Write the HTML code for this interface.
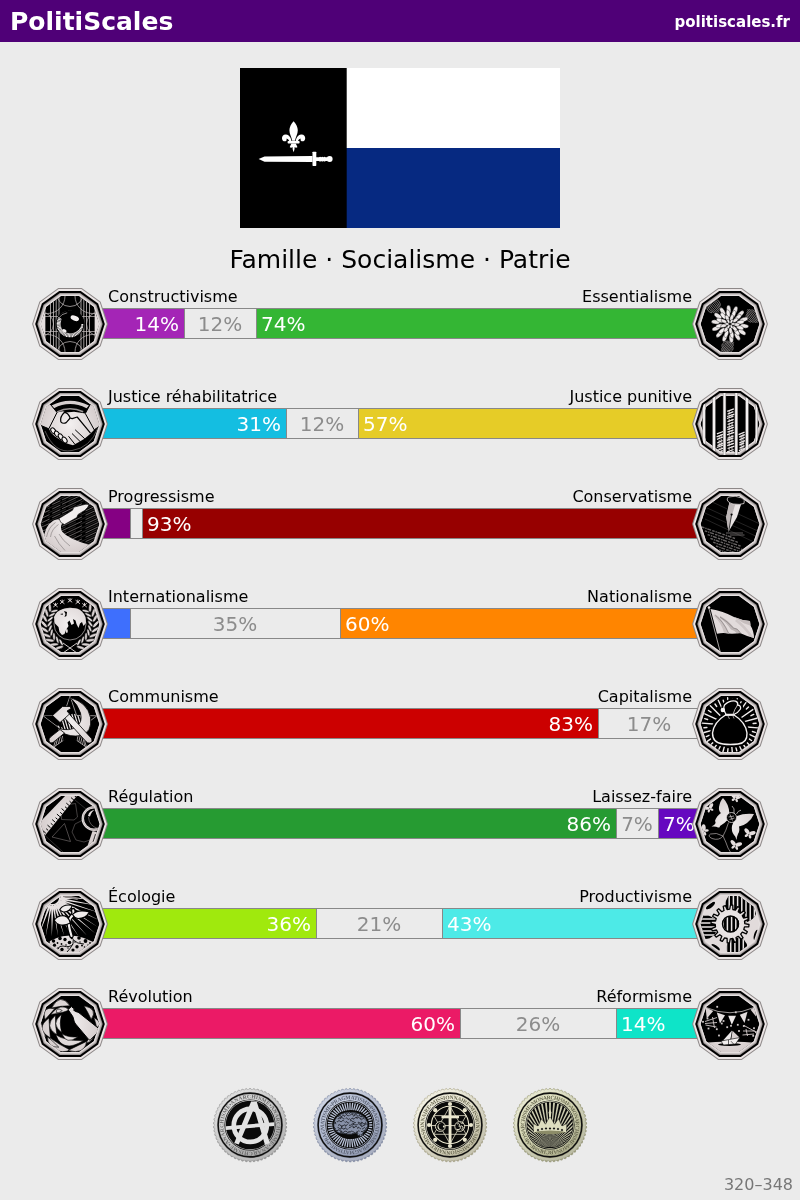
<!DOCTYPE html>
<html lang="fr"><head><meta charset="utf-8"><title>PolitiScales</title>
<style>
html,body{margin:0;padding:0;background:#ebebeb;}
svg{display:block;font-family:"DejaVu Sans","Liberation Sans",sans-serif;}
.lab{font-size:16px;fill:#000;}
.pc{font-size:20px;fill:#fff;}
.pn{font-size:20px;fill:#8c8c8c;}
.mt{font-family:"Liberation Serif","DejaVu Serif",serif;font-weight:bold;font-size:5.5px;}
</style></head><body>
<svg width="800" height="1200" viewBox="0 0 800 1200">
<rect width="800" height="1200" fill="#ebebeb"/>
<rect width="800" height="42" fill="#4f0077"/>
<text x="10" y="30" font-size="25" font-weight="bold" fill="#fff">PolitiScales</text>
<text x="790" y="27" font-size="15" font-weight="bold" fill="#fff" text-anchor="end">politiscales.fr</text>

<g id="flag">
<rect x="340" y="68" width="220" height="80" fill="#fff"/>
<rect x="340" y="148" width="220" height="80" fill="#062981"/>
<rect x="240" y="68" width="106.700" height="160" fill="#000"/>
<g fill="#fff">
<path d="M293.6 121.3C291.2 124 289.4 127.2 289.4 130.3C289.4 134 291.6 137.2 292.2 140.8H295C295.6 137.2 297.8 134 297.8 130.3C297.8 127.2 296 124 293.6 121.3Z"/>
<g transform="translate(0,.8)"><path d="M291.6 141.2C291.4 137.6 289.6 134 286 133.6C283.2 133.4 281.9 135.6 282 137.6C282.2 139.8 284 141 285.6 140.4C286.8 140 287 138.6 286.2 138C287.8 137.6 289.2 139 289.4 141.2Z"/>
<path d="M295.6 141.2C295.8 137.6 297.6 134 301.2 133.6C304 133.4 305.3 135.6 305.2 137.6C305 139.8 303.2 141 301.6 140.4C300.4 140 300.2 138.6 301 138C299.400 137.6 298 139 297.8 141.2Z"/></g>
<rect x="287.6" y="141" width="12" height="2.6" rx=".8"/>
<path d="M291.4 143.4H295.800C296.2 145 297.4 146 297.4 147.300C296.2 148 295.3 147.700 294.7 147C294.7 148.800 294.3 150.500 293.6 152.200C292.900 150.500 292.500 148.800 292.500 147C291.900 147.700 291 148 289.800 147.300C289.800 146 291 145 291.400 143.400Z"/>
<path d="M258.6 159L264.500 156.400L312.500 156V162.100L264.500 161.700Z"/>
<rect x="312.500" y="151.700" width="3.800" height="14.200" rx=".6"/>
<path d="M316 157.300H319C319.600 156.600 320.600 156.600 321.200 157.300C321.800 156.600 322.800 156.600 323.400 157.300C324 156.600 325 156.600 325.600 157.300H327V160.900H325.600C325 161.600 324 161.600 323.400 160.900C322.800 161.600 321.800 161.600 321.200 160.900C320.600 161.600 319.600 161.600 319 160.900H316Z"/>
<circle cx="329.600" cy="159.100" r="3"/>
</g>
</g>
<text x="400" y="268" font-size="25" fill="#000" text-anchor="middle">Famille · Socialisme · Patrie</text>

<text class="lab" x="108" y="302">Constructivisme</text>
<text class="lab" x="692" y="302" text-anchor="end">Essentialisme</text>
<rect x="100.5" y="308.5" width="84" height="30" fill="#a425b6" stroke="#888"/>
<rect x="184.5" y="308.5" width="72" height="30" fill="#ebebeb" stroke="#888"/>
<rect x="256.5" y="308.5" width="444" height="30" fill="#34b634" stroke="#888"/>
<text class="pc" x="179" y="331" text-anchor="end">14%</text>
<text class="pn" x="220.0" y="331" text-anchor="middle">12%</text>
<text class="pc" x="261" y="331">74%</text>
<text class="lab" x="108" y="402">Justice réhabilitatrice</text>
<text class="lab" x="692" y="402" text-anchor="end">Justice punitive</text>
<rect x="100.5" y="408.5" width="186" height="30" fill="#14bee1" stroke="#888"/>
<rect x="286.5" y="408.5" width="72" height="30" fill="#ebebeb" stroke="#888"/>
<rect x="358.5" y="408.5" width="342" height="30" fill="#e6cc27" stroke="#888"/>
<text class="pc" x="281" y="431" text-anchor="end">31%</text>
<text class="pn" x="322.0" y="431" text-anchor="middle">12%</text>
<text class="pc" x="363" y="431">57%</text>
<text class="lab" x="108" y="502">Progressisme</text>
<text class="lab" x="692" y="502" text-anchor="end">Conservatisme</text>
<rect x="100.5" y="508.5" width="30" height="30" fill="#850083" stroke="#888"/>
<rect x="130.5" y="508.5" width="12" height="30" fill="#ebebeb" stroke="#888"/>
<rect x="142.5" y="508.5" width="558" height="30" fill="#970000" stroke="#888"/>
<text class="pc" x="147" y="531">93%</text>
<text class="lab" x="108" y="602">Internationalisme</text>
<text class="lab" x="692" y="602" text-anchor="end">Nationalisme</text>
<rect x="100.5" y="608.5" width="30" height="30" fill="#3e6ffd" stroke="#888"/>
<rect x="130.5" y="608.5" width="210" height="30" fill="#ebebeb" stroke="#888"/>
<rect x="340.5" y="608.5" width="360" height="30" fill="#ff8500" stroke="#888"/>
<text class="pn" x="235.0" y="631" text-anchor="middle">35%</text>
<text class="pc" x="345" y="631">60%</text>
<text class="lab" x="108" y="702">Communisme</text>
<text class="lab" x="692" y="702" text-anchor="end">Capitalisme</text>
<rect x="100.5" y="708.5" width="498" height="30" fill="#cc0000" stroke="#888"/>
<rect x="598.5" y="708.5" width="102" height="30" fill="#ebebeb" stroke="#888"/>
<text class="pc" x="593" y="731" text-anchor="end">83%</text>
<text class="pn" x="649.0" y="731" text-anchor="middle">17%</text>
<text class="lab" x="108" y="802">Régulation</text>
<text class="lab" x="692" y="802" text-anchor="end">Laissez-faire</text>
<rect x="100.5" y="808.5" width="516" height="30" fill="#269b32" stroke="#888"/>
<rect x="616.5" y="808.5" width="42" height="30" fill="#ebebeb" stroke="#888"/>
<rect x="658.5" y="808.5" width="42" height="30" fill="#6608c0" stroke="#888"/>
<text class="pc" x="611" y="831" text-anchor="end">86%</text>
<text class="pn" x="637.0" y="831" text-anchor="middle">7%</text>
<text class="pc" x="663" y="831">7%</text>
<text class="lab" x="108" y="902">Écologie</text>
<text class="lab" x="692" y="902" text-anchor="end">Productivisme</text>
<rect x="100.5" y="908.5" width="216" height="30" fill="#a0e90d" stroke="#888"/>
<rect x="316.5" y="908.5" width="126" height="30" fill="#ebebeb" stroke="#888"/>
<rect x="442.5" y="908.5" width="258" height="30" fill="#4deae7" stroke="#888"/>
<text class="pc" x="311" y="931" text-anchor="end">36%</text>
<text class="pn" x="379.0" y="931" text-anchor="middle">21%</text>
<text class="pc" x="447" y="931">43%</text>
<text class="lab" x="108" y="1002">Révolution</text>
<text class="lab" x="692" y="1002" text-anchor="end">Réformisme</text>
<rect x="100.5" y="1008.5" width="360" height="30" fill="#eb1a66" stroke="#888"/>
<rect x="460.5" y="1008.5" width="156" height="30" fill="#ebebeb" stroke="#888"/>
<rect x="616.5" y="1008.5" width="84" height="30" fill="#0ee4c8" stroke="#888"/>
<text class="pc" x="455" y="1031" text-anchor="end">60%</text>
<text class="pn" x="538.0" y="1031" text-anchor="middle">26%</text>
<text class="pc" x="621" y="1031">14%</text>
<defs>
<radialGradient id="lg" cx="0" cy="0" r="30" gradientUnits="userSpaceOnUse"><stop offset="0" stop-color="#f1eded"/><stop offset="1" stop-color="#d6cdcd"/></radialGradient>
<radialGradient id="lgz" cx="400" cy="400" r="320" gradientUnits="userSpaceOnUse"><stop offset="0" stop-color="#f3f0f0"/><stop offset="1" stop-color="#d3caca"/></radialGradient>
<clipPath id="dc"><polygon points="29.40,0.00 23.79,17.28 9.09,27.96 -9.09,27.96 -23.79,17.28 -29.40,0.00 -23.79,-17.28 -9.09,-27.96 9.09,-27.96 23.79,-17.28"/></clipPath>
<clipPath id="dc2"><polygon points="32.60,0.00 26.37,19.16 10.07,31.00 -10.07,31.00 -26.37,19.16 -32.60,0.00 -26.37,-19.16 -10.07,-31.00 10.07,-31.00 26.37,-19.16"/></clipPath>
<g id="fr0"><polygon points="37.90,0.00 30.66,22.28 11.71,36.05 -11.71,36.05 -30.66,22.28 -37.90,0.00 -30.66,-22.28 -11.71,-36.05 11.71,-36.05 30.66,-22.28" fill="#8d8888"/><polygon points="36.80,0.00 29.77,21.63 11.37,35.00 -11.37,35.00 -29.77,21.63 -36.80,0.00 -29.77,-21.63 -11.37,-35.00 11.37,-35.00 29.77,-21.63" fill="#ece6e6"/><polygon points="34.80,0.00 28.15,20.45 10.75,33.10 -10.75,33.10 -28.15,20.45 -34.80,0.00 -28.15,-20.45 -10.75,-33.10 10.75,-33.10 28.15,-20.45" fill="#000"/><polygon points="32.70,0.00 26.45,19.22 10.10,31.10 -10.10,31.10 -26.45,19.22 -32.70,0.00 -26.45,-19.22 -10.10,-31.10 10.10,-31.10 26.45,-19.22" fill="#8f8a8a"/><polygon points="32.00,0.00 25.89,18.81 9.89,30.43 -9.89,30.43 -25.89,18.81 -32.00,0.00 -25.89,-18.81 -9.89,-30.43 9.89,-30.43 25.89,-18.81" fill="#b5aeae"/><polygon points="31.20,0.00 25.24,18.34 9.64,29.67 -9.64,29.67 -25.24,18.34 -31.20,0.00 -25.24,-18.34 -9.64,-29.67 9.64,-29.67 25.24,-18.34" fill="#d2cbcb"/><polygon points="30.40,0.00 24.59,17.87 9.39,28.91 -9.39,28.91 -24.59,17.87 -30.40,0.00 -24.59,-17.87 -9.39,-28.91 9.39,-28.91 24.59,-17.87" fill="#e6e0e0"/></g>
</defs>
<g transform="translate(70,324)"><use href="#fr0"/><g clip-path="url(#dc)"><polygon points="29.50,0.00 23.87,17.34 9.12,28.06 -9.12,28.06 -23.87,17.34 -29.50,0.00 -23.87,-17.34 -9.12,-28.06 9.12,-28.06 23.87,-17.34" fill="#000"/><g transform="scale(0.1) translate(-400,-400)"><path d="M150 100V700M650 100V700" stroke="#c9c2c2" stroke-width="8"/><path d="M205 100V700M595 100V700" stroke="#c9c2c2" stroke-width="8"/><path d="M235 100V700M565 100V700" stroke="#c9c2c2" stroke-width="8"/><path d="M262 100V700M538 100V700" stroke="#c9c2c2" stroke-width="8"/><path d="M290 100V700M510 100V700" stroke="#c9c2c2" stroke-width="8"/><path d="M100 400L150 280V520ZM700 400L650 280V520Z" fill="#e4dddd"/><path d="M150 325H290M150 475H290M510 325H650M510 475H650" stroke="#c9c2c2" stroke-width="7"/><circle cx="400" cy="90" r="135" fill="none" stroke="#c9c2c2" stroke-width="7"/><circle cx="400" cy="710" r="135" fill="none" stroke="#c9c2c2" stroke-width="7"/><circle cx="175" cy="120" r="175" fill="none" stroke="#c9c2c2" stroke-width="7"/><circle cx="625" cy="120" r="175" fill="none" stroke="#c9c2c2" stroke-width="7"/><circle cx="175" cy="680" r="175" fill="none" stroke="#c9c2c2" stroke-width="7"/><circle cx="625" cy="680" r="175" fill="none" stroke="#c9c2c2" stroke-width="7"/><circle cx="120" cy="400" r="115" fill="none" stroke="#c9c2c2" stroke-width="7"/><circle cx="680" cy="400" r="115" fill="none" stroke="#c9c2c2" stroke-width="7"/><circle cx="400" cy="400" r="142" fill="#000"/><circle cx="400" cy="400" r="113" fill="none" stroke="#f1eded" stroke-width="40" stroke-dasharray="10 3.500" /><path d="M400 400L285 330A140 140 0 0 1 545 400Z" fill="#000"/><circle cx="415" cy="385" r="103" fill="#000"/><path d="M283 345A130 130 0 0 1 372 288" stroke="#e4dddd" stroke-width="6" fill="none"/><ellipse cx="448" cy="342" rx="44" ry="25" transform="rotate(22 448 342)" fill="#f4f0f0"/><ellipse cx="345" cy="468" rx="22" ry="15" transform="rotate(30 345 468)" fill="#f4f0f0"/></g></g></g>
<g transform="translate(730,324)"><use href="#fr0"/><g clip-path="url(#dc)"><polygon points="29.50,0.00 23.87,17.34 9.12,28.06 -9.12,28.06 -23.87,17.34 -29.50,0.00 -23.87,-17.34 -9.12,-28.06 9.12,-28.06 23.87,-17.34" fill="#000"/><g transform="scale(0.1) translate(-400,-400)"><path d="M250 152Q302 163 304 217M232 153Q286 178 301 234M215 153Q269 192 297 251M198 154Q252 206 293 268M180 155Q235 220 290 285M177 172Q218 234 272 286M173 189Q201 248 255 287M169 206Q184 262 238 287M166 223Q168 277 220 288" stroke="#a9a3a3" stroke-width="7" fill="none"/><path d="M642 257Q691 274 690 326M625 255Q674 286 686 342M609 253Q658 297 682 358M593 252Q641 309 678 374M576 250Q625 320 674 390M572 266Q609 331 657 388M568 282Q592 343 641 387M564 298Q576 354 625 385M560 314Q559 366 608 383" stroke="#a9a3a3" stroke-width="7" fill="none"/><path d="M316 616Q334 571 382 570M315 631Q344 586 397 574M313 646Q354 601 411 577M311 661Q365 615 426 581M309 676Q375 630 441 584M324 679Q385 645 439 599M339 683Q396 659 437 614M353 686Q406 674 435 629M368 690Q416 689 434 644" stroke="#a9a3a3" stroke-width="7" fill="none"/><circle cx="400" cy="400" r="150" fill="#000"/><ellipse cx="145" cy="0" rx="43.0" ry="21.0" transform="translate(400,400) rotate(8.0)" fill="#ebe6e6" stroke="#000" stroke-width="3.500"/><ellipse cx="145" cy="0" rx="43.0" ry="21.0" transform="translate(400,400) rotate(33.7)" fill="#ebe6e6" stroke="#000" stroke-width="3.500"/><ellipse cx="145" cy="0" rx="43.0" ry="21.0" transform="translate(400,400) rotate(59.4)" fill="#ebe6e6" stroke="#000" stroke-width="3.500"/><ellipse cx="145" cy="0" rx="43.0" ry="21.0" transform="translate(400,400) rotate(85.1)" fill="#ebe6e6" stroke="#000" stroke-width="3.500"/><ellipse cx="145" cy="0" rx="43.0" ry="21.0" transform="translate(400,400) rotate(110.9)" fill="#ebe6e6" stroke="#000" stroke-width="3.500"/><ellipse cx="145" cy="0" rx="43.0" ry="21.0" transform="translate(400,400) rotate(136.6)" fill="#ebe6e6" stroke="#000" stroke-width="3.500"/><ellipse cx="145" cy="0" rx="43.0" ry="21.0" transform="translate(400,400) rotate(162.3)" fill="#ebe6e6" stroke="#000" stroke-width="3.500"/><ellipse cx="145" cy="0" rx="43.0" ry="21.0" transform="translate(400,400) rotate(188.0)" fill="#ebe6e6" stroke="#000" stroke-width="3.500"/><ellipse cx="145" cy="0" rx="43.0" ry="21.0" transform="translate(400,400) rotate(213.7)" fill="#ebe6e6" stroke="#000" stroke-width="3.500"/><ellipse cx="145" cy="0" rx="43.0" ry="21.0" transform="translate(400,400) rotate(239.4)" fill="#ebe6e6" stroke="#000" stroke-width="3.500"/><ellipse cx="145" cy="0" rx="43.0" ry="21.0" transform="translate(400,400) rotate(265.1)" fill="#ebe6e6" stroke="#000" stroke-width="3.500"/><ellipse cx="145" cy="0" rx="43.0" ry="21.0" transform="translate(400,400) rotate(290.9)" fill="#ebe6e6" stroke="#000" stroke-width="3.500"/><ellipse cx="145" cy="0" rx="43.0" ry="21.0" transform="translate(400,400) rotate(316.6)" fill="#ebe6e6" stroke="#000" stroke-width="3.500"/><ellipse cx="145" cy="0" rx="43.0" ry="21.0" transform="translate(400,400) rotate(342.3)" fill="#ebe6e6" stroke="#000" stroke-width="3.500"/><ellipse cx="106" cy="0" rx="38.0" ry="19.0" transform="translate(400,400) rotate(20.0)" fill="#f3efef" stroke="#000" stroke-width="3.500"/><ellipse cx="106" cy="0" rx="38.0" ry="19.0" transform="translate(400,400) rotate(50.0)" fill="#f3efef" stroke="#000" stroke-width="3.500"/><ellipse cx="106" cy="0" rx="38.0" ry="19.0" transform="translate(400,400) rotate(80.0)" fill="#f3efef" stroke="#000" stroke-width="3.500"/><ellipse cx="106" cy="0" rx="38.0" ry="19.0" transform="translate(400,400) rotate(110.0)" fill="#f3efef" stroke="#000" stroke-width="3.500"/><ellipse cx="106" cy="0" rx="38.0" ry="19.0" transform="translate(400,400) rotate(140.0)" fill="#f3efef" stroke="#000" stroke-width="3.500"/><ellipse cx="106" cy="0" rx="38.0" ry="19.0" transform="translate(400,400) rotate(170.0)" fill="#f3efef" stroke="#000" stroke-width="3.500"/><ellipse cx="106" cy="0" rx="38.0" ry="19.0" transform="translate(400,400) rotate(200.0)" fill="#f3efef" stroke="#000" stroke-width="3.500"/><ellipse cx="106" cy="0" rx="38.0" ry="19.0" transform="translate(400,400) rotate(230.0)" fill="#f3efef" stroke="#000" stroke-width="3.500"/><ellipse cx="106" cy="0" rx="38.0" ry="19.0" transform="translate(400,400) rotate(260.0)" fill="#f3efef" stroke="#000" stroke-width="3.500"/><ellipse cx="106" cy="0" rx="38.0" ry="19.0" transform="translate(400,400) rotate(290.0)" fill="#f3efef" stroke="#000" stroke-width="3.500"/><ellipse cx="106" cy="0" rx="38.0" ry="19.0" transform="translate(400,400) rotate(320.0)" fill="#f3efef" stroke="#000" stroke-width="3.500"/><ellipse cx="106" cy="0" rx="38.0" ry="19.0" transform="translate(400,400) rotate(350.0)" fill="#f3efef" stroke="#000" stroke-width="3.500"/><ellipse cx="66" cy="0" rx="31.0" ry="17.0" transform="translate(400,400) rotate(5.0)" fill="#ede8e8" stroke="#000" stroke-width="3.500"/><ellipse cx="66" cy="0" rx="31.0" ry="17.0" transform="translate(400,400) rotate(45.0)" fill="#ede8e8" stroke="#000" stroke-width="3.500"/><ellipse cx="66" cy="0" rx="31.0" ry="17.0" transform="translate(400,400) rotate(85.0)" fill="#ede8e8" stroke="#000" stroke-width="3.500"/><ellipse cx="66" cy="0" rx="31.0" ry="17.0" transform="translate(400,400) rotate(125.0)" fill="#ede8e8" stroke="#000" stroke-width="3.500"/><ellipse cx="66" cy="0" rx="31.0" ry="17.0" transform="translate(400,400) rotate(165.0)" fill="#ede8e8" stroke="#000" stroke-width="3.500"/><ellipse cx="66" cy="0" rx="31.0" ry="17.0" transform="translate(400,400) rotate(205.0)" fill="#ede8e8" stroke="#000" stroke-width="3.500"/><ellipse cx="66" cy="0" rx="31.0" ry="17.0" transform="translate(400,400) rotate(245.0)" fill="#ede8e8" stroke="#000" stroke-width="3.500"/><ellipse cx="66" cy="0" rx="31.0" ry="17.0" transform="translate(400,400) rotate(285.0)" fill="#ede8e8" stroke="#000" stroke-width="3.500"/><ellipse cx="66" cy="0" rx="31.0" ry="17.0" transform="translate(400,400) rotate(325.0)" fill="#ede8e8" stroke="#000" stroke-width="3.500"/><ellipse cx="30" cy="0" rx="21.0" ry="12.0" transform="translate(400,400) rotate(0.0)" fill="#f6f3f3" stroke="#000" stroke-width="3.500"/><ellipse cx="30" cy="0" rx="21.0" ry="12.0" transform="translate(400,400) rotate(60.0)" fill="#f6f3f3" stroke="#000" stroke-width="3.500"/><ellipse cx="30" cy="0" rx="21.0" ry="12.0" transform="translate(400,400) rotate(120.0)" fill="#f6f3f3" stroke="#000" stroke-width="3.500"/><ellipse cx="30" cy="0" rx="21.0" ry="12.0" transform="translate(400,400) rotate(180.0)" fill="#f6f3f3" stroke="#000" stroke-width="3.500"/><ellipse cx="30" cy="0" rx="21.0" ry="12.0" transform="translate(400,400) rotate(240.0)" fill="#f6f3f3" stroke="#000" stroke-width="3.500"/><ellipse cx="30" cy="0" rx="21.0" ry="12.0" transform="translate(400,400) rotate(300.0)" fill="#f6f3f3" stroke="#000" stroke-width="3.500"/></g></g></g>
<g transform="translate(70,424)"><use href="#fr0"/><g clip-path="url(#dc)"><polygon points="29.50,0.00 23.87,17.34 9.12,28.06 -9.12,28.06 -23.87,17.34 -29.50,0.00 -23.87,-17.34 -9.12,-28.06 9.12,-28.06 23.87,-17.34" fill="#000"/><g transform="scale(0.1) translate(-400,-400)"><path d="M215 215Q400 118 590 215L565 242Q400 160 240 242Z" fill="#d6cfcf"/><path d="M272 278Q400 215 532 278" stroke="#9a9494" stroke-width="15" fill="none"/><path d="M150 470Q250 700 420 665Q600 640 680 440" stroke="#6d6868" stroke-width="8" fill="none"/><path d="M268 285L330 272L360 285L440 278L555 295L645 455L595 505L545 548L485 582L430 612L385 600L345 585L300 558L250 525L210 488L188 445Z" fill="url(#lgz)"/><path d="M105 235L195 192L270 285L188 448L98 410Z" fill="url(#lgz)" stroke="#000" stroke-width="10"/><path d="M605 198L698 245L708 415L642 458L553 295Z" fill="url(#lgz)" stroke="#000" stroke-width="10"/><path d="M308 378Q296 330 345 283Q382 288 402 340L422 346L472 330L605 492" stroke="#000" stroke-width="12" fill="none" stroke-linejoin="round"/><path d="M308 378Q330 402 362 386L402 340" stroke="#000" stroke-width="12" fill="none"/><path d="M452 458L548 548M420 495L502 576M385 522L447 600" stroke="#000" stroke-width="10" fill="none"/><ellipse cx="233" cy="468" rx="21" ry="33" transform="rotate(-35 233 468)" fill="#f2eeee" stroke="#000" stroke-width="10"/><ellipse cx="270" cy="500" rx="21" ry="33" transform="rotate(-35 270 500)" fill="#f2eeee" stroke="#000" stroke-width="10"/><ellipse cx="308" cy="529" rx="21" ry="33" transform="rotate(-35 308 529)" fill="#f2eeee" stroke="#000" stroke-width="10"/><ellipse cx="346" cy="560" rx="21" ry="33" transform="rotate(-35 346 560)" fill="#f2eeee" stroke="#000" stroke-width="10"/></g></g></g>
<g transform="translate(730,424)"><use href="#fr0"/><g clip-path="url(#dc)"><polygon points="29.50,0.00 23.87,17.34 9.12,28.06 -9.12,28.06 -23.87,17.34 -29.50,0.00 -23.87,-17.34 -9.12,-28.06 9.12,-28.06 23.87,-17.34" fill="#000"/><g transform="scale(0.1) translate(-400,-400)"><path d="M372 273L439 249M376 301L434 277M371 325L444 301M370 345L435 321M375 377L437 353M376 405L435 381M371 435L434 411M374 456L438 432M374 482L436 458M370 508L443 484M375 543L436 519M368 563L434 539M371 591L436 567M372 617L439 593M376 645L444 621M371 679L436 655M374 699L438 675M269 499L332 475M266 528L330 504M269 554L330 530M273 589L326 565M274 616L331 592M268 635L331 611M271 665L331 641M271 690L333 666M486 506L546 482M491 531L548 507M494 558L548 534M492 590L551 566M493 612L542 588M495 641L545 617M489 667L549 643M494 698L547 674" stroke="#ece7e7" stroke-width="13"/><path d="M392 270V680M420 300V680M292 510V680M312 500V680M512 510V680M530 500V680" stroke="#e2dbdb" stroke-width="8" stroke-dasharray="34 14 22 10"/><path d="M105 400L127 340V460ZM695 400L680 340V460Z" fill="#000"/></g></g><g clip-path="url(#dc2)"><g transform="scale(0.1) translate(-400,-400)"><rect x="128.0" y="60" width="24" height="680" fill="#f3f0f0" stroke="#8d8787" stroke-width="5"/><rect x="227.5" y="60" width="25" height="680" fill="#f3f0f0" stroke="#8d8787" stroke-width="5"/><rect x="331.5" y="60" width="27" height="680" fill="#f3f0f0" stroke="#8d8787" stroke-width="5"/><rect x="449.5" y="60" width="27" height="680" fill="#f3f0f0" stroke="#8d8787" stroke-width="5"/><rect x="557.5" y="60" width="25" height="680" fill="#f3f0f0" stroke="#8d8787" stroke-width="5"/><rect x="654.0" y="60" width="24" height="680" fill="#f3f0f0" stroke="#8d8787" stroke-width="5"/></g></g></g>
<g transform="translate(70,524)"><use href="#fr0"/><g clip-path="url(#dc)"><polygon points="29.50,0.00 23.87,17.34 9.12,28.06 -9.12,28.06 -23.87,17.34 -29.50,0.00 -23.87,-17.34 -9.12,-28.06 9.12,-28.06 23.87,-17.34" fill="#000"/><g transform="scale(0.1) translate(-400,-400)"><path d="M60 194L760 -136M60 238L760 -92M60 282L760 -48M60 326L760 -4M60 370L760 40M60 414L760 84M60 458L760 128M60 502L760 172M60 546L760 216M60 590L760 260M60 634L760 304M60 678L760 348M60 722L760 392M60 766L760 436M60 810L760 480M60 854L760 524M60 898L760 568M60 942L760 612M60 986L760 656M60 1030L760 700M60 1074L760 744M60 1118L760 788M60 1162L760 832M60 1206L760 876M60 1250L760 920M60 1294L760 964" stroke="#6b6666" stroke-width="9" stroke-dasharray="150 30 90 18 220 40"/><path d="M60 216L760 -114M60 260L760 -70M60 304L760 -26M60 348L760 18M60 392L760 62M60 436L760 106M60 480L760 150M60 524L760 194M60 568L760 238M60 612L760 282M60 656L760 326M60 700L760 370M60 744L760 414M60 788L760 458M60 832L760 502M60 876L760 546M60 920L760 590M60 964L760 634M60 1008L760 678M60 1052L760 722M60 1096L760 766M60 1140L760 810M60 1184L760 854M60 1228L760 898M60 1272L760 942M60 1316L760 986" stroke="#454242" stroke-width="6" stroke-dasharray="80 50 200 30"/><path d="M135 570Q140 420 235 365Q290 340 335 375Q290 430 325 480Q390 550 610 615L530 730L190 730Z" fill="url(#lgz)"/><path d="M165 530Q185 430 255 385M205 530Q215 450 285 405M245 520Q285 600 350 665M290 500Q330 570 400 620" stroke="#8d8787" stroke-width="7" fill="none"/><path d="M290 345L425 262L438 232L515 212Q565 195 590 205Q585 235 545 265L480 305L468 335L345 405Q300 395 290 345Z" fill="#f1eded" stroke="#000" stroke-width="6"/></g></g></g>
<g transform="translate(730,524)"><use href="#fr0"/><g clip-path="url(#dc)"><polygon points="29.50,0.00 23.87,17.34 9.12,28.06 -9.12,28.06 -23.87,17.34 -29.50,0.00 -23.87,-17.34 -9.12,-28.06 9.12,-28.06 23.87,-17.34" fill="#000"/><g transform="scale(0.1) translate(-400,-400)"><path d="M150 230L700 480M150 290L700 540M150 350L640 580M200 170L700 400" stroke="#3c3a3a" stroke-width="6"/><path d="M120 430L450 545M148 468L478 583M176 506L506 621M204 544L534 659M232 582L562 697M260 620L590 735M288 658L618 773" stroke="#8a8585" stroke-width="14" stroke-dasharray="26 9 14 7 40 12" opacity=".75"/><path d="M360 490H530M400 510H545" stroke="#8f8989" stroke-width="7"/><path d="M395 180L515 190L470 330L385 478L362 330Z" fill="#e9e4e4"/><path d="M455 195L415 330L385 478L362 330L395 185Z" fill="#bdb6b6"/><path d="M415 310L388 470" stroke="#000" stroke-width="7"/><circle cx="416" cy="305" r="11" fill="#000"/><path d="M385 130Q450 110 520 140Q555 165 540 195Q500 210 430 200Q380 190 372 160Q372 140 385 130Z" fill="#000" stroke="#e4dddd" stroke-width="8"/></g></g></g>
<g transform="translate(70,624)"><use href="#fr0"/><g clip-path="url(#dc)"><polygon points="29.50,0.00 23.87,17.34 9.12,28.06 -9.12,28.06 -23.87,17.34 -29.50,0.00 -23.87,-17.34 -9.12,-28.06 9.12,-28.06 23.87,-17.34" fill="#000"/><g transform="scale(0.1) translate(-400,-400)"><path d="M233 194L277 230M277 194L233 230M255 188V220" stroke="#e4dddd" stroke-width="9"/><path d="M300 162L344 198M344 162L300 198M322 156V188" stroke="#e4dddd" stroke-width="9"/><path d="M378 147L422 183M422 147L378 183M400 141V173" stroke="#e4dddd" stroke-width="9"/><path d="M456 162L500 198M500 162L456 198M478 156V188" stroke="#e4dddd" stroke-width="9"/><path d="M523 194L567 230M567 194L523 230M545 188V220" stroke="#e4dddd" stroke-width="9"/><ellipse cx="290" cy="636" rx="46.0" ry="15.0" transform="rotate(162 290 636)" fill="url(#lgz)" stroke="#000" stroke-width="5"/><ellipse cx="510" cy="636" rx="46.0" ry="15.0" transform="rotate(18 510 636)" fill="url(#lgz)" stroke="#000" stroke-width="5"/><ellipse cx="311" cy="583" rx="37.0" ry="12.5" transform="rotate(-118 311 583)" fill="url(#lgz)" stroke="#000" stroke-width="5"/><ellipse cx="489" cy="583" rx="37.0" ry="12.5" transform="rotate(298 489 583)" fill="url(#lgz)" stroke="#000" stroke-width="5"/><ellipse cx="240" cy="605" rx="46.0" ry="15.0" transform="rotate(175 240 605)" fill="url(#lgz)" stroke="#000" stroke-width="5"/><ellipse cx="560" cy="605" rx="46.0" ry="15.0" transform="rotate(5 560 605)" fill="url(#lgz)" stroke="#000" stroke-width="5"/><ellipse cx="273" cy="558" rx="37.0" ry="12.5" transform="rotate(-105 273 558)" fill="url(#lgz)" stroke="#000" stroke-width="5"/><ellipse cx="527" cy="558" rx="37.0" ry="12.5" transform="rotate(285 527 558)" fill="url(#lgz)" stroke="#000" stroke-width="5"/><ellipse cx="198" cy="563" rx="46.0" ry="15.0" transform="rotate(-172 198 563)" fill="url(#lgz)" stroke="#000" stroke-width="5"/><ellipse cx="602" cy="563" rx="46.0" ry="15.0" transform="rotate(352 602 563)" fill="url(#lgz)" stroke="#000" stroke-width="5"/><ellipse cx="240" cy="525" rx="37.0" ry="12.5" transform="rotate(-92 240 525)" fill="url(#lgz)" stroke="#000" stroke-width="5"/><ellipse cx="560" cy="525" rx="37.0" ry="12.5" transform="rotate(272 560 525)" fill="url(#lgz)" stroke="#000" stroke-width="5"/><ellipse cx="166" cy="514" rx="46.0" ry="15.0" transform="rotate(-159 166 514)" fill="url(#lgz)" stroke="#000" stroke-width="5"/><ellipse cx="634" cy="514" rx="46.0" ry="15.0" transform="rotate(339 634 514)" fill="url(#lgz)" stroke="#000" stroke-width="5"/><ellipse cx="216" cy="486" rx="37.0" ry="12.5" transform="rotate(-79 216 486)" fill="url(#lgz)" stroke="#000" stroke-width="5"/><ellipse cx="584" cy="486" rx="37.0" ry="12.5" transform="rotate(259 584 486)" fill="url(#lgz)" stroke="#000" stroke-width="5"/><ellipse cx="147" cy="458" rx="46.0" ry="15.0" transform="rotate(-146 147 458)" fill="url(#lgz)" stroke="#000" stroke-width="5"/><ellipse cx="653" cy="458" rx="46.0" ry="15.0" transform="rotate(326 653 458)" fill="url(#lgz)" stroke="#000" stroke-width="5"/><ellipse cx="202" cy="443" rx="37.0" ry="12.5" transform="rotate(-66 202 443)" fill="url(#lgz)" stroke="#000" stroke-width="5"/><ellipse cx="598" cy="443" rx="37.0" ry="12.5" transform="rotate(246 598 443)" fill="url(#lgz)" stroke="#000" stroke-width="5"/><ellipse cx="140" cy="400" rx="46.0" ry="15.0" transform="rotate(-133 140 400)" fill="url(#lgz)" stroke="#000" stroke-width="5"/><ellipse cx="660" cy="400" rx="46.0" ry="15.0" transform="rotate(313 660 400)" fill="url(#lgz)" stroke="#000" stroke-width="5"/><ellipse cx="197" cy="397" rx="37.0" ry="12.5" transform="rotate(-53 197 397)" fill="url(#lgz)" stroke="#000" stroke-width="5"/><ellipse cx="603" cy="397" rx="37.0" ry="12.5" transform="rotate(233 603 397)" fill="url(#lgz)" stroke="#000" stroke-width="5"/><ellipse cx="147" cy="341" rx="46.0" ry="15.0" transform="rotate(-120 147 341)" fill="url(#lgz)" stroke="#000" stroke-width="5"/><ellipse cx="653" cy="341" rx="46.0" ry="15.0" transform="rotate(300 653 341)" fill="url(#lgz)" stroke="#000" stroke-width="5"/><ellipse cx="203" cy="351" rx="37.0" ry="12.5" transform="rotate(-40 203 351)" fill="url(#lgz)" stroke="#000" stroke-width="5"/><ellipse cx="597" cy="351" rx="37.0" ry="12.5" transform="rotate(220 597 351)" fill="url(#lgz)" stroke="#000" stroke-width="5"/><ellipse cx="166" cy="286" rx="46.0" ry="15.0" transform="rotate(-107 166 286)" fill="url(#lgz)" stroke="#000" stroke-width="5"/><ellipse cx="634" cy="286" rx="46.0" ry="15.0" transform="rotate(287 634 286)" fill="url(#lgz)" stroke="#000" stroke-width="5"/><ellipse cx="219" cy="308" rx="37.0" ry="12.5" transform="rotate(-27 219 308)" fill="url(#lgz)" stroke="#000" stroke-width="5"/><ellipse cx="581" cy="308" rx="37.0" ry="12.5" transform="rotate(207 581 308)" fill="url(#lgz)" stroke="#000" stroke-width="5"/><ellipse cx="198" cy="236" rx="46.0" ry="15.0" transform="rotate(-94 198 236)" fill="url(#lgz)" stroke="#000" stroke-width="5"/><ellipse cx="602" cy="236" rx="46.0" ry="15.0" transform="rotate(274 602 236)" fill="url(#lgz)" stroke="#000" stroke-width="5"/><ellipse cx="244" cy="270" rx="37.0" ry="12.5" transform="rotate(-14 244 270)" fill="url(#lgz)" stroke="#000" stroke-width="5"/><ellipse cx="556" cy="270" rx="37.0" ry="12.5" transform="rotate(194 556 270)" fill="url(#lgz)" stroke="#000" stroke-width="5"/><path d="M330 690L470 590M470 690L330 590" stroke="#e4dddd" stroke-width="9"/><circle cx="400" cy="400" r="172" fill="#000"/><circle cx="400" cy="400" r="160" fill="none" stroke="#e4dddd" stroke-width="6"/><path d="M240 330Q260 270 330 250Q400 232 470 245Q530 265 555 330L560 390L535 420L520 380L500 395L485 440L465 400L455 365L430 350L440 395L415 410L395 365L375 385L385 420L360 460L345 500L320 510L295 480L285 430L250 395Z" fill="url(#lgz)"/><path d="M300 300L330 295L325 310ZM340 270L355 300L345 330L365 320L370 280Z" fill="#000"/><ellipse cx="368" cy="470" rx="10" ry="20" fill="#e4dddd"/></g></g></g>
<g transform="translate(730,624)"><use href="#fr0"/><g clip-path="url(#dc)"><polygon points="29.50,0.00 23.87,17.34 9.12,28.06 -9.12,28.06 -23.87,17.34 -29.50,0.00 -23.87,-17.34 -9.12,-28.06 9.12,-28.06 23.87,-17.34" fill="#000"/><g transform="scale(0.1) translate(-400,-400)"><path d="M188 240L305 690" stroke="#b9b2b2" stroke-width="9"/><circle cx="190" cy="235" r="13" fill="#e4dddd"/><path d="M205 250Q330 270 440 330Q520 365 600 370L605 415Q640 470 640 540Q560 520 500 490Q440 500 380 495Q330 485 270 498Z" fill="#e2dbdb"/><path d="M440 330Q520 365 600 370L605 415Q540 400 470 350Z" fill="#c6bebe"/><path d="M250 300Q330 350 390 495L340 488Q310 380 240 320Z" fill="#c9c1c1"/><path d="M300 320Q380 360 440 440Q480 440 510 492L470 492Q440 460 410 455Q360 380 300 340Z" fill="#bdb5b5"/><path d="M470 350Q560 420 640 540L600 528Q540 440 450 370Z" fill="#cfc7c7"/><path d="M255 315Q330 370 385 490M300 330Q370 370 435 440M435 440Q475 440 505 490" stroke="#7a7474" stroke-width="6" fill="none"/></g></g></g>
<g transform="translate(70,724)"><use href="#fr0"/><g clip-path="url(#dc)"><polygon points="29.50,0.00 23.87,17.34 9.12,28.06 -9.12,28.06 -23.87,17.34 -29.50,0.00 -23.87,-17.34 -9.12,-28.06 9.12,-28.06 23.87,-17.34" fill="#000"/><g transform="scale(0.1) translate(-400,-400)"><clipPath id="stc"><polygon points="400,122 466,314 669,318 507,440 566,634 400,517 234,634 293,440 131,318 334,314"/></clipPath><polygon points="400,122 466,314 669,318 507,440 566,634 400,517 234,634 293,440 131,318 334,314" fill="#000" stroke="#cfc8c8" stroke-width="7"/><path d="M250 300L300 470M278 300L328 470M306 300L356 470M334 300L384 470M362 300L412 470M390 300L440 470M418 300L468 470M446 300L496 470M474 300L524 470M502 300L552 470M530 300L580 470M558 300L608 470" stroke="#e9e4e4" stroke-width="12" clip-path="url(#stc)"/><path d="M230 640L260 520M252 640L282 520M274 640L304 520M296 640L326 520M318 640L348 520M340 640L370 520M362 640L392 520M384 640L414 520M406 640L436 520M428 640L458 520M450 640L480 520M472 640L502 520M494 640L524 520M516 640L546 520M538 640L568 520M560 640L590 520" stroke="#cfc8c8" stroke-width="8" clip-path="url(#stc)"/><path d="M340 500L460 500L470 570L400 540L330 570Z" fill="#000"/><path d="M400 130L440 290L360 290Z" fill="#000" clip-path="url(#stc)"/><path d="M140 318L290 318L330 440L250 400Z" fill="#000"/><path d="M400 135Q575 185 605 335Q625 485 505 515Q400 535 315 480L285 445Q395 475 460 430Q530 385 505 290Q480 205 400 135Z" fill="url(#lgz)" stroke="#000" stroke-width="8"/><path d="M300 455L345 490L230 585Q200 600 190 570Q185 545 210 525Z" fill="url(#lgz)" stroke="#000" stroke-width="8"/><path d="M310 300L360 265L615 545Q630 580 600 590Q575 595 560 575Z" fill="url(#lgz)" stroke="#000" stroke-width="8"/><path d="M225 315L325 225L400 225L410 245L370 270L395 300L300 385Z" fill="url(#lgz)" stroke="#000" stroke-width="8"/></g></g></g>
<g transform="translate(730,724)"><use href="#fr0"/><g clip-path="url(#dc)"><polygon points="29.50,0.00 23.87,17.34 9.12,28.06 -9.12,28.06 -23.87,17.34 -29.50,0.00 -23.87,-17.34 -9.12,-28.06 9.12,-28.06 23.87,-17.34" fill="#000"/><g transform="scale(0.1) translate(-400,-400)"><path d="M539 427L677 439M624 475L653 483M527 474L652 532M590 548L615 565M499 514L597 612M533 605L550 630M459 542L517 667M460 639L468 668M412 554L424 692M380 646L377 676M364 550L328 684M302 625L289 652M320 530L241 643M236 579L215 600M285 495L172 574M190 513L163 526M265 451L131 487M169 435L139 438M261 403L123 391M176 355L147 347M273 356L148 298M210 282L185 265M301 316L203 218M267 225L250 200M341 288L283 163M340 191L332 162M388 276L376 138M420 184L423 154M436 280L472 146M498 205L511 178M480 300L559 187M564 251L585 230M515 335L628 256M610 317L637 304M535 379L669 343M631 395L661 392" stroke="#f1eded" stroke-width="14" stroke-linecap="round"/><path d="M355 310Q240 380 225 490Q225 590 330 600Q400 610 480 600Q575 590 570 490Q555 380 440 310ZM362 305Q325 250 345 210Q400 160 455 172Q485 185 475 210Q512 212 505 250Q480 290 438 305Z" fill="#000" stroke="#000" stroke-width="50" stroke-linejoin="round"/><path d="M355 310Q240 380 225 490Q225 590 330 600Q400 610 480 600Q575 590 570 490Q555 380 440 310Z" fill="#000" stroke="#f3f0f0" stroke-width="14"/><path d="M362 305Q325 250 345 210Q400 160 455 172Q485 185 475 210Q512 212 505 250Q480 290 438 305Z" fill="#000" stroke="#f3f0f0" stroke-width="13"/><path d="M475 212Q445 250 432 300" stroke="#e6dfdf" stroke-width="8" fill="none"/><path d="M350 308H448" stroke="#efebeb" stroke-width="14"/><circle cx="328" cy="260" r="22" fill="#f7f4f4"/><path d="M380 320L395 350M430 320L440 345" stroke="#d2caca" stroke-width="7"/></g></g></g>
<g transform="translate(70,824)"><use href="#fr0"/><g clip-path="url(#dc)"><polygon points="29.50,0.00 23.87,17.34 9.12,28.06 -9.12,28.06 -23.87,17.34 -29.50,0.00 -23.87,-17.34 -9.12,-28.06 9.12,-28.06 23.87,-17.34" fill="#000"/><g transform="scale(0.1) translate(-400,-400)"><path d="M315 215L455 195L475 330L440 360L315 355Z" fill="none" stroke="#5d5959" stroke-width="7"/><path d="M345 395L405 575L220 530Z" fill="none" stroke="#6b6666" stroke-width="7"/><path d="M520 365L450 400L420 480L460 560L540 580L600 560" fill="none" stroke="#5d5959" stroke-width="7"/><path d="M150 515L330 680M450 160L560 250" stroke="#4e4a4a" stroke-width="6"/><path d="M85 395L375 95L470 118L150 515Z" fill="url(#lgz)"/><path d="M158 492l-30 -26M182 464l-20 -17M205 437l-30 -26M228 410l-20 -17M252 382l-30 -26M276 354l-20 -17M299 327l-30 -26M322 300l-20 -17M346 272l-30 -26M370 244l-20 -17M393 217l-30 -26M416 190l-20 -17M440 162l-30 -26M464 134l-20 -17" stroke="#000" stroke-width="10"/><circle cx="640" cy="345" r="112" fill="#000" stroke="url(#lgz)" stroke-width="24"/><circle cx="640" cy="345" r="112" fill="none" stroke="#8d8787" stroke-width="4"/><path d="M580 320Q590 265 650 258Q615 275 600 325Z" fill="#e4dddd"/><path d="M585 330Q590 420 680 445" stroke="#8d8787" stroke-width="6" fill="none"/><path d="M625 470L670 480L625 600L575 620Z" fill="url(#lgz)"/><path d="M655 500L630 580" stroke="#000" stroke-width="7"/></g></g></g>
<g transform="translate(730,824)"><use href="#fr0"/><g clip-path="url(#dc)"><polygon points="29.50,0.00 23.87,17.34 9.12,28.06 -9.12,28.06 -23.87,17.34 -29.50,0.00 -23.87,-17.34 -9.12,-28.06 9.12,-28.06 23.87,-17.34" fill="#000"/><g transform="scale(0.1) translate(-400,-400)"><g transform="translate(455,140) rotate(15) scale(0.75)" fill="#e4dddd"><ellipse cx="-36" cy="-24" rx="42" ry="24" transform="rotate(35 -36 -24)"/><ellipse cx="36" cy="-24" rx="42" ry="24" transform="rotate(-35 36 -24)"/><ellipse cx="-22" cy="26" rx="26" ry="16" transform="rotate(-50 -22 26)"/><ellipse cx="22" cy="26" rx="26" ry="16" transform="rotate(50 22 26)"/></g><g transform="translate(195,245) rotate(-25) scale(0.7)" fill="#e4dddd"><ellipse cx="-36" cy="-24" rx="42" ry="24" transform="rotate(35 -36 -24)"/><ellipse cx="36" cy="-24" rx="42" ry="24" transform="rotate(-35 36 -24)"/><ellipse cx="-22" cy="26" rx="26" ry="16" transform="rotate(-50 -22 26)"/><ellipse cx="22" cy="26" rx="26" ry="16" transform="rotate(50 22 26)"/></g><g transform="translate(140,470) rotate(-60) scale(0.8)" fill="#e4dddd"><ellipse cx="-36" cy="-24" rx="42" ry="24" transform="rotate(35 -36 -24)"/><ellipse cx="36" cy="-24" rx="42" ry="24" transform="rotate(-35 36 -24)"/><ellipse cx="-22" cy="26" rx="26" ry="16" transform="rotate(-50 -22 26)"/><ellipse cx="22" cy="26" rx="26" ry="16" transform="rotate(50 22 26)"/></g><g transform="translate(590,500) rotate(20) scale(0.8)" fill="#e4dddd"><ellipse cx="-36" cy="-24" rx="42" ry="24" transform="rotate(35 -36 -24)"/><ellipse cx="36" cy="-24" rx="42" ry="24" transform="rotate(-35 36 -24)"/><ellipse cx="-22" cy="26" rx="26" ry="16" transform="rotate(-50 -22 26)"/><ellipse cx="22" cy="26" rx="26" ry="16" transform="rotate(50 22 26)"/></g><g transform="translate(455,615) rotate(15) scale(0.8)" fill="#e4dddd"><ellipse cx="-36" cy="-24" rx="42" ry="24" transform="rotate(35 -36 -24)"/><ellipse cx="36" cy="-24" rx="42" ry="24" transform="rotate(-35 36 -24)"/><ellipse cx="-22" cy="26" rx="26" ry="16" transform="rotate(-50 -22 26)"/><ellipse cx="22" cy="26" rx="26" ry="16" transform="rotate(50 22 26)"/></g><path d="M395 300Q390 200 330 140Q300 170 290 230Q285 270 310 290Q265 320 250 370Q265 390 240 410L215 425Q260 420 280 435Q300 440 300 420Q340 400 385 350Z" fill="url(#lgz)"/><path d="M470 320Q540 290 640 300Q620 350 570 390Q530 420 490 425Q500 470 480 500Q470 520 465 560Q455 520 440 510Q410 470 420 420Q430 370 470 320Z" fill="url(#lgz)"/><circle cx="415" cy="335" r="50" fill="#000" stroke="#e4dddd" stroke-width="8"/><path d="M385 330L440 320M395 355L445 340M400 305L425 365" stroke="#bdb6b6" stroke-width="8"/><path d="M440 295Q450 240 420 220M465 300Q480 265 510 262" stroke="#e4dddd" stroke-width="7" fill="none"/><path d="M385 385Q360 470 330 520Q290 570 220 545Q170 520 205 500Q260 480 330 520Q360 580 380 640L410 690" stroke="#d2caca" stroke-width="6" fill="none"/></g></g></g>
<g transform="translate(70,924)"><use href="#fr0"/><g clip-path="url(#dc)"><polygon points="29.50,0.00 23.87,17.34 9.12,28.06 -9.12,28.06 -23.87,17.34 -29.50,0.00 -23.87,-17.34 -9.12,-28.06 9.12,-28.06 23.87,-17.34" fill="#000"/><g transform="scale(0.1) translate(-400,-400)"><path d="M291 140L553 101L288 116ZM310 147L645 150L310 129ZM287 158L688 217L291 134ZM303 170L701 290L309 153ZM278 174L692 363L289 153ZM291 189L678 429L301 174ZM267 186L654 495L283 168ZM275 204L573 521L289 192ZM251 196L488 525L271 182ZM254 215L409 512L270 207ZM233 201L342 518L255 194ZM228 220L279 521L246 218ZM212 200L218 525L236 200ZM201 217L156 529L219 220ZM191 192L88 511L214 200ZM174 203L29 461L189 212Z" fill="#e6e0e0"/><path d="M330 105Q420 120 500 140L470 160Q400 140 330 130Z" fill="#8d8787"/><path d="M120 620Q250 520 400 515Q560 520 690 620L690 760L120 760Z" fill="url(#lgz)"/><circle cx="235" cy="570" r="17" fill="#000"/><circle cx="300" cy="545" r="18" fill="#000"/><circle cx="350" cy="555" r="17" fill="#000"/><circle cx="245" cy="612" r="16" fill="#000"/><circle cx="320" cy="655" r="17" fill="#000"/><circle cx="395" cy="585" r="18" fill="#000"/><circle cx="490" cy="540" r="18" fill="#000"/><circle cx="555" cy="570" r="19" fill="#000"/><circle cx="470" cy="628" r="17" fill="#000"/><circle cx="430" cy="660" r="16" fill="#000"/><circle cx="190" cy="580" r="10" fill="#000"/><circle cx="275" cy="590" r="9" fill="#000"/><circle cx="315" cy="600" r="9" fill="#000"/><circle cx="520" cy="615" r="10" fill="#000"/><circle cx="600" cy="590" r="9" fill="#000"/><circle cx="545" cy="630" r="8" fill="#000"/><circle cx="210" cy="625" r="8" fill="#000"/><circle cx="360" cy="610" r="8" fill="#000"/><circle cx="415" cy="545" r="8" fill="#000"/><circle cx="450" cy="580" r="8" fill="#000"/><circle cx="280" cy="640" r="8" fill="#000"/><circle cx="500" cy="580" r="7" fill="#000"/><circle cx="380" cy="640" r="7" fill="#000"/><circle cx="580" cy="610" r="7" fill="#000"/><path d="M410 510Q445 560 430 600Q400 640 330 620Q290 615 280 650M430 600Q400 650 370 680M435 560Q470 600 540 600" stroke="#000" stroke-width="9" fill="none"/><path d="M415 520Q395 460 385 390Q395 340 430 310Q440 290 432 262" stroke="#000" stroke-width="46" fill="none" stroke-linecap="round"/><path d="M415 520Q395 460 385 390Q395 340 430 310Q440 290 432 262" stroke="#f1eded" stroke-width="21" fill="none" stroke-linecap="round"/><path d="M305 255Q335 205 415 218Q398 272 338 274Q315 272 305 255Z" fill="#efebeb" stroke="#000" stroke-width="22" paint-order="stroke"/><path d="M432 305Q480 258 585 282Q555 338 480 340Q448 335 432 305Z" fill="#efebeb" stroke="#000" stroke-width="22" paint-order="stroke"/><path d="M248 362Q285 315 345 324Q388 340 395 388Q350 412 298 402Q265 390 248 362Z" fill="#efebeb" stroke="#000" stroke-width="22" paint-order="stroke"/></g></g></g>
<g transform="translate(730,924)"><use href="#fr0"/><g clip-path="url(#dc)"><polygon points="29.50,0.00 23.87,17.34 9.12,28.06 -9.12,28.06 -23.87,17.34 -29.50,0.00 -23.87,-17.34 -9.12,-28.06 9.12,-28.06 23.87,-17.34" fill="#e2dbdb"/><g transform="scale(0.1) translate(-400,-400)"><clipPath id="pg1"><circle cx="515" cy="225" r="165"/></clipPath><g clip-path="url(#pg1)"><rect x="350" y="60" width="330" height="330" fill="#000"/><path d="M350 60V390M392 60V390M434 60V390M476 60V390M518 60V390M560 60V390M602 60V390M644 60V390" stroke="#e9e4e4" stroke-width="15"/></g><clipPath id="pg2"><circle cx="150" cy="430" r="120"/></clipPath><g clip-path="url(#pg2)"><rect x="30" y="310" width="240" height="240" fill="#000"/><path d="M30 310H270M30 350H270M30 390H270M30 430H270M30 470H270M30 510H270" stroke="#e9e4e4" stroke-width="15"/></g><clipPath id="pg3"><circle cx="470" cy="640" r="105"/></clipPath><g clip-path="url(#pg3)"><rect x="365" y="535" width="210" height="210" fill="#000"/><path d="M365 535V745M407 535V745M449 535V745M491 535V745M533 535V745" stroke="#e9e4e4" stroke-width="15"/></g><ellipse cx="205" cy="215" rx="55" ry="22" transform="rotate(-38 205 215)" fill="#000"/><ellipse cx="660" cy="510" rx="20" ry="55" transform="rotate(15 660 510)" fill="#000"/><ellipse cx="255" cy="635" rx="50" ry="20" transform="rotate(35 255 635)" fill="#000"/><polygon points="548,397 590,405 588,428 545,429 538,454 574,477 563,498 523,482 507,502 531,538 513,553 482,523 460,535 468,577 446,584 429,545 403,548 395,590 372,588 371,545 346,538 323,574 302,563 318,523 298,507 262,531 247,513 277,482 265,460 223,468 216,446 255,429 252,403 210,395 212,372 255,371 262,346 226,323 237,302 277,318 293,298 269,262 287,247 318,277 340,265 332,223 354,216 371,255 397,252 405,210 428,212 429,255 454,262 477,226 498,237 482,277 502,293 538,269 553,287 523,318 535,340 577,332 584,354 545,371" fill="url(#lgz)" stroke="#000" stroke-width="13" stroke-linejoin="round"/><clipPath id="pg4"><circle cx="412" cy="400" r="80"/></clipPath><g clip-path="url(#pg4)"><rect x="332" y="320" width="160" height="160" fill="#000"/><path d="M332 320V480M374 320V480M416 320V480M458 320V480" stroke="#e9e4e4" stroke-width="15"/></g><circle cx="405" cy="400" r="80" fill="none" stroke="#000" stroke-width="14"/></g></g></g>
<g transform="translate(70,1024)"><use href="#fr0"/><g clip-path="url(#dc)"><polygon points="29.50,0.00 23.87,17.34 9.12,28.06 -9.12,28.06 -23.87,17.34 -29.50,0.00 -23.87,-17.34 -9.12,-28.06 9.12,-28.06 23.87,-17.34" fill="#000"/><g transform="scale(0.1) translate(-400,-400)"><path d="M104 368Q39 475 158 536Q134 445 104 368Z" fill="url(#lgz)" stroke="#000" stroke-width="6"/><path d="M150 356Q111 219 248 246Q201 299 150 356Z" fill="url(#lgz)" stroke="#000" stroke-width="6"/><path d="M216 240Q300 79 400 218Q316 216 216 240Z" fill="url(#lgz)" stroke="#000" stroke-width="6"/><path d="M190 340Q46 445 204 540Q193 435 190 340Z" fill="url(#lgz)" stroke="#000" stroke-width="6"/><path d="M196 536Q225 722 404 662Q295 608 196 536Z" fill="url(#lgz)" stroke="#000" stroke-width="6"/><path d="M380 664Q543 714 570 572Q492 610 380 664Z" fill="url(#lgz)" stroke="#000" stroke-width="6"/><path d="M208 304Q310 180 392 258Q338 289 208 304Z" fill="url(#lgz)" stroke="#000" stroke-width="6"/><path d="M254 312Q131 426 269 508Q252 418 254 312Z" fill="url(#lgz)" stroke="#000" stroke-width="6"/><path d="M258 508Q326 698 536 565Q352 571 258 508Z" fill="url(#lgz)" stroke="#000" stroke-width="6"/><path d="M315 304Q199 398 317 484Q289 398 315 304Z" fill="url(#lgz)" stroke="#000" stroke-width="6"/><path d="M320 496Q360 614 480 528Q376 538 320 496Z" fill="url(#lgz)" stroke="#000" stroke-width="6"/><path d="M539 218Q685 249 611 354Q590 300 539 218Z" fill="url(#lgz)" stroke="#000" stroke-width="6"/><path d="M638 334Q745 396 664 438Q666 415 638 334Z" fill="url(#lgz)" stroke="#000" stroke-width="6"/><path d="M262 285Q264 227 323 266Q286 297 262 285Z" fill="url(#lgz)" stroke="#000" stroke-width="6"/><path d="M176 528Q171 636 288 632Q229 572 176 528Z" fill="url(#lgz)" stroke="#000" stroke-width="6"/><path d="M560 592Q646 573 640 480Q586 531 560 592Z" fill="url(#lgz)" stroke="#000" stroke-width="6"/><path d="M380 256L414 226L444 250L436 262Q462 280 478 282Q490 286 500 296L694 450Q702 460 692 472L606 556Q596 564 586 554L456 400Q440 380 438 360Q436 330 408 296Z" fill="url(#lgz)" stroke="#000" stroke-width="10" stroke-linejoin="round"/></g></g></g>
<g transform="translate(730,1024)"><use href="#fr0"/><g clip-path="url(#dc)"><polygon points="29.50,0.00 23.87,17.34 9.12,28.06 -9.12,28.06 -23.87,17.34 -29.50,0.00 -23.87,-17.34 -9.12,-28.06 9.12,-28.06 23.87,-17.34" fill="#000"/><g transform="scale(0.1) translate(-400,-400)"><path d="M110 590Q400 560 690 590L690 760L110 760Z" fill="url(#lgz)"/><ellipse cx="395" cy="605" rx="115" ry="14" fill="#000"/><path d="M160 235Q400 340 640 235" stroke="#e4dddd" stroke-width="7" fill="none"/><path d="M155 232L232 270L168 345Z" fill="url(#lgz)"/><path d="M268 284L350 312L300 395Z" fill="url(#lgz)"/><path d="M382 318L460 318L418 408Z" fill="url(#lgz)"/><path d="M498 308L575 278L545 390Z" fill="url(#lgz)"/><path d="M606 258L655 222L660 325Z" fill="url(#lgz)"/><rect x="263" y="219" width="18" height="18" fill="#cfc8c8"/><rect x="449" y="274" width="18" height="18" fill="#cfc8c8"/><rect x="166" y="336" width="18" height="18" fill="#cfc8c8"/><rect x="326" y="361" width="18" height="18" fill="#cfc8c8"/><rect x="121" y="369" width="18" height="18" fill="#cfc8c8"/><rect x="309" y="386" width="18" height="18" fill="#cfc8c8"/><rect x="401" y="409" width="18" height="18" fill="#cfc8c8"/><rect x="469" y="399" width="18" height="18" fill="#cfc8c8"/><rect x="576" y="349" width="18" height="18" fill="#cfc8c8"/><rect x="363" y="423" width="18" height="18" fill="#cfc8c8"/><rect x="529" y="411" width="18" height="18" fill="#cfc8c8"/><rect x="176" y="436" width="18" height="18" fill="#cfc8c8"/><rect x="259" y="443" width="18" height="18" fill="#cfc8c8"/><rect x="631" y="433" width="18" height="18" fill="#cfc8c8"/><rect x="481" y="461" width="18" height="18" fill="#cfc8c8"/><rect x="281" y="506" width="18" height="18" fill="#cfc8c8"/><rect x="651" y="473" width="18" height="18" fill="#cfc8c8"/><rect x="623" y="509" width="18" height="18" fill="#cfc8c8"/><path d="M150 375L270 335M150 395L270 385M155 410L265 430M225 330L245 440" stroke="#d2caca" stroke-width="9"/><path d="M540 415L660 480M530 470L650 470M525 510L640 500M560 450L575 520" stroke="#d2caca" stroke-width="9"/><path d="M420 465L330 565L400 575Z" fill="#efebeb"/><path d="M425 468L495 535L410 572Z" fill="#d8d0d0"/><path d="M310 570L500 535L455 600L335 610Z" fill="#f2eeee" stroke="#000" stroke-width="6"/><path d="M385 560V608M410 572L440 605" stroke="#000" stroke-width="6"/></g></g></g>
<g transform="translate(250,1125)"><radialGradient id="mg1" cx="-6" cy="-8" r="50" gradientUnits="userSpaceOnUse"><stop offset="0" stop-color="#f2f2f2"/><stop offset=".55" stop-color="#cbcbcb"/><stop offset="1" stop-color="#8a8a8a"/></radialGradient><path d="M35.20 0.00Q38.79 2.10 34.99 3.81Q38.34 6.29 34.38 7.57Q37.44 10.39 33.36 11.24Q36.09 14.38 31.95 14.78Q34.33 18.20 30.16 18.15Q32.16 21.80 28.02 21.30Q29.61 25.15 25.56 24.21Q26.72 28.21 22.79 26.83Q23.51 30.93 19.75 29.13Q20.03 33.29 16.49 31.10Q16.31 35.26 13.03 32.70Q12.41 36.82 9.42 33.92Q8.35 37.94 5.69 34.74Q4.20 38.62 1.91 35.15Q-0.00 38.85 -1.91 35.15Q-4.20 38.62 -5.69 34.74Q-8.35 37.94 -9.42 33.92Q-12.41 36.82 -13.03 32.70Q-16.31 35.26 -16.49 31.10Q-20.03 33.29 -19.75 29.13Q-23.51 30.93 -22.79 26.83Q-26.72 28.21 -25.56 24.21Q-29.61 25.15 -28.02 21.30Q-32.16 21.80 -30.16 18.15Q-34.33 18.20 -31.95 14.78Q-36.09 14.38 -33.36 11.24Q-37.44 10.39 -34.38 7.57Q-38.34 6.29 -34.99 3.81Q-38.79 2.10 -35.20 0.00Q-38.79 -2.10 -34.99 -3.81Q-38.34 -6.29 -34.38 -7.57Q-37.44 -10.39 -33.36 -11.24Q-36.09 -14.38 -31.95 -14.78Q-34.33 -18.20 -30.16 -18.15Q-32.16 -21.80 -28.02 -21.30Q-29.61 -25.15 -25.56 -24.21Q-26.72 -28.21 -22.79 -26.83Q-23.51 -30.93 -19.75 -29.13Q-20.03 -33.29 -16.49 -31.10Q-16.31 -35.26 -13.03 -32.70Q-12.41 -36.82 -9.42 -33.92Q-8.35 -37.94 -5.69 -34.74Q-4.20 -38.62 -1.91 -35.15Q0.00 -38.85 1.91 -35.15Q4.20 -38.62 5.69 -34.74Q8.35 -37.94 9.42 -33.92Q12.41 -36.82 13.03 -32.70Q16.31 -35.26 16.49 -31.10Q20.03 -33.29 19.75 -29.13Q23.51 -30.93 22.79 -26.83Q26.72 -28.21 25.56 -24.21Q29.61 -25.15 28.02 -21.30Q32.16 -21.80 30.16 -18.15Q34.33 -18.20 31.95 -14.78Q36.09 -14.38 33.36 -11.24Q37.44 -10.39 34.38 -7.57Q38.34 -6.29 34.99 -3.81Q38.79 -2.10 35.20 -0.00Z" fill="#8a8a8a" transform="translate(.3,.5)" opacity=".55"/><path d="M35.00 0.00Q38.39 2.08 34.79 3.78Q37.94 6.22 34.18 7.52Q37.05 10.29 33.17 11.18Q35.72 14.23 31.77 14.70Q33.97 18.01 29.99 18.04Q31.83 21.58 27.86 21.18Q29.31 24.89 25.41 24.07Q26.44 27.92 22.66 26.68Q23.27 30.61 19.64 28.97Q19.82 32.95 16.39 30.92Q16.15 34.90 12.95 32.51Q12.28 36.44 9.36 33.72Q8.27 37.55 5.66 34.54Q4.16 38.23 1.89 34.95Q-0.00 38.45 -1.89 34.95Q-4.16 38.23 -5.66 34.54Q-8.27 37.55 -9.36 33.72Q-12.28 36.44 -12.95 32.51Q-16.15 34.90 -16.39 30.92Q-19.82 32.95 -19.64 28.97Q-23.27 30.61 -22.66 26.68Q-26.44 27.92 -25.41 24.07Q-29.31 24.89 -27.86 21.18Q-31.83 21.58 -29.99 18.04Q-33.97 18.01 -31.77 14.70Q-35.72 14.23 -33.17 11.18Q-37.05 10.29 -34.18 7.52Q-37.94 6.22 -34.79 3.78Q-38.39 2.08 -35.00 0.00Q-38.39 -2.08 -34.79 -3.78Q-37.94 -6.22 -34.18 -7.52Q-37.05 -10.29 -33.17 -11.18Q-35.72 -14.23 -31.77 -14.70Q-33.97 -18.01 -29.99 -18.04Q-31.83 -21.58 -27.86 -21.18Q-29.31 -24.89 -25.41 -24.07Q-26.44 -27.92 -22.66 -26.68Q-23.27 -30.61 -19.64 -28.97Q-19.82 -32.95 -16.39 -30.92Q-16.15 -34.90 -12.95 -32.51Q-12.28 -36.44 -9.36 -33.72Q-8.27 -37.55 -5.66 -34.54Q-4.16 -38.23 -1.89 -34.95Q0.00 -38.45 1.89 -34.95Q4.16 -38.23 5.66 -34.54Q8.27 -37.55 9.36 -33.72Q12.28 -36.44 12.95 -32.51Q16.15 -34.90 16.39 -30.92Q19.82 -32.95 19.64 -28.97Q23.27 -30.61 22.66 -26.68Q26.44 -27.92 25.41 -24.07Q29.31 -24.89 27.86 -21.18Q31.83 -21.58 29.99 -18.04Q33.97 -18.01 31.77 -14.70Q35.72 -14.23 33.17 -11.18Q37.05 -10.29 34.18 -7.52Q37.94 -6.22 34.79 -3.78Q38.39 -2.08 35.00 -0.00Z" fill="url(#mg1)" stroke="#8a8a8a" stroke-width=".45"/><circle r="34.500" fill="none" stroke="#fff" stroke-width="2.600" opacity=".3"/><circle r="32.700" fill="#111"/><circle r="31.100" fill="url(#mg1)"/><circle r="25.6" fill="#111"/><circle r="24.900000000000002" fill="url(#mg1)"/><circle r="24.3" fill="#0a0a0a"/><path id="mp1" d="M0 -26.700000000000003A26.700000000000003 26.700000000000003 0 1 1 -0.01 -26.700000000000003" fill="none" transform="rotate(-42)"/><text class="mt" fill="#6a6a6a" textLength="167.3" lengthAdjust="spacing"><textPath href="#mp1">ANARCHISME▪ANARCHISME▪ANARCHISME▪ANARCHISME▪</textPath></text><circle cx=".3" cy=".4" r="16.500" fill="none" stroke="#e2e2e2" stroke-width="4.700"/><path d="M1.100 -23.600L-15.700 18L-11.200 19.600L4.100 -16.500L15 19.900L19.900 18L6.700 -23.600Z" fill="#e2e2e2"/><path d="M-24 1.200L24 -2.800V.9L-24 4.900Z" fill="#e2e2e2"/></g>
<g transform="translate(350,1125)"><radialGradient id="mg2" cx="-6" cy="-8" r="50" gradientUnits="userSpaceOnUse"><stop offset="0" stop-color="#dfe5f2"/><stop offset=".55" stop-color="#b2bbd1"/><stop offset="1" stop-color="#78819a"/></radialGradient><path d="M35.20 0.00Q38.79 2.10 34.99 3.81Q38.34 6.29 34.38 7.57Q37.44 10.39 33.36 11.24Q36.09 14.38 31.95 14.78Q34.33 18.20 30.16 18.15Q32.16 21.80 28.02 21.30Q29.61 25.15 25.56 24.21Q26.72 28.21 22.79 26.83Q23.51 30.93 19.75 29.13Q20.03 33.29 16.49 31.10Q16.31 35.26 13.03 32.70Q12.41 36.82 9.42 33.92Q8.35 37.94 5.69 34.74Q4.20 38.62 1.91 35.15Q-0.00 38.85 -1.91 35.15Q-4.20 38.62 -5.69 34.74Q-8.35 37.94 -9.42 33.92Q-12.41 36.82 -13.03 32.70Q-16.31 35.26 -16.49 31.10Q-20.03 33.29 -19.75 29.13Q-23.51 30.93 -22.79 26.83Q-26.72 28.21 -25.56 24.21Q-29.61 25.15 -28.02 21.30Q-32.16 21.80 -30.16 18.15Q-34.33 18.20 -31.95 14.78Q-36.09 14.38 -33.36 11.24Q-37.44 10.39 -34.38 7.57Q-38.34 6.29 -34.99 3.81Q-38.79 2.10 -35.20 0.00Q-38.79 -2.10 -34.99 -3.81Q-38.34 -6.29 -34.38 -7.57Q-37.44 -10.39 -33.36 -11.24Q-36.09 -14.38 -31.95 -14.78Q-34.33 -18.20 -30.16 -18.15Q-32.16 -21.80 -28.02 -21.30Q-29.61 -25.15 -25.56 -24.21Q-26.72 -28.21 -22.79 -26.83Q-23.51 -30.93 -19.75 -29.13Q-20.03 -33.29 -16.49 -31.10Q-16.31 -35.26 -13.03 -32.70Q-12.41 -36.82 -9.42 -33.92Q-8.35 -37.94 -5.69 -34.74Q-4.20 -38.62 -1.91 -35.15Q0.00 -38.85 1.91 -35.15Q4.20 -38.62 5.69 -34.74Q8.35 -37.94 9.42 -33.92Q12.41 -36.82 13.03 -32.70Q16.31 -35.26 16.49 -31.10Q20.03 -33.29 19.75 -29.13Q23.51 -30.93 22.79 -26.83Q26.72 -28.21 25.56 -24.21Q29.61 -25.15 28.02 -21.30Q32.16 -21.80 30.16 -18.15Q34.33 -18.20 31.95 -14.78Q36.09 -14.38 33.36 -11.24Q37.44 -10.39 34.38 -7.57Q38.34 -6.29 34.99 -3.81Q38.79 -2.10 35.20 -0.00Z" fill="#78819a" transform="translate(.3,.5)" opacity=".55"/><path d="M35.00 0.00Q38.39 2.08 34.79 3.78Q37.94 6.22 34.18 7.52Q37.05 10.29 33.17 11.18Q35.72 14.23 31.77 14.70Q33.97 18.01 29.99 18.04Q31.83 21.58 27.86 21.18Q29.31 24.89 25.41 24.07Q26.44 27.92 22.66 26.68Q23.27 30.61 19.64 28.97Q19.82 32.95 16.39 30.92Q16.15 34.90 12.95 32.51Q12.28 36.44 9.36 33.72Q8.27 37.55 5.66 34.54Q4.16 38.23 1.89 34.95Q-0.00 38.45 -1.89 34.95Q-4.16 38.23 -5.66 34.54Q-8.27 37.55 -9.36 33.72Q-12.28 36.44 -12.95 32.51Q-16.15 34.90 -16.39 30.92Q-19.82 32.95 -19.64 28.97Q-23.27 30.61 -22.66 26.68Q-26.44 27.92 -25.41 24.07Q-29.31 24.89 -27.86 21.18Q-31.83 21.58 -29.99 18.04Q-33.97 18.01 -31.77 14.70Q-35.72 14.23 -33.17 11.18Q-37.05 10.29 -34.18 7.52Q-37.94 6.22 -34.79 3.78Q-38.39 2.08 -35.00 0.00Q-38.39 -2.08 -34.79 -3.78Q-37.94 -6.22 -34.18 -7.52Q-37.05 -10.29 -33.17 -11.18Q-35.72 -14.23 -31.77 -14.70Q-33.97 -18.01 -29.99 -18.04Q-31.83 -21.58 -27.86 -21.18Q-29.31 -24.89 -25.41 -24.07Q-26.44 -27.92 -22.66 -26.68Q-23.27 -30.61 -19.64 -28.97Q-19.82 -32.95 -16.39 -30.92Q-16.15 -34.90 -12.95 -32.51Q-12.28 -36.44 -9.36 -33.72Q-8.27 -37.55 -5.66 -34.54Q-4.16 -38.23 -1.89 -34.95Q0.00 -38.45 1.89 -34.95Q4.16 -38.23 5.66 -34.54Q8.27 -37.55 9.36 -33.72Q12.28 -36.44 12.95 -32.51Q16.15 -34.90 16.39 -30.92Q19.82 -32.95 19.64 -28.97Q23.27 -30.61 22.66 -26.68Q26.44 -27.92 25.41 -24.07Q29.31 -24.89 27.86 -21.18Q31.83 -21.58 29.99 -18.04Q33.97 -18.01 31.77 -14.70Q35.72 -14.23 33.17 -11.18Q37.05 -10.29 34.18 -7.52Q37.94 -6.22 34.79 -3.78Q38.39 -2.08 35.00 -0.00Z" fill="url(#mg2)" stroke="#78819a" stroke-width=".45"/><circle r="34.500" fill="none" stroke="#fff" stroke-width="2.600" opacity=".3"/><circle r="32.700" fill="#111"/><circle r="31.100" fill="url(#mg2)"/><circle r="24.6" fill="#111"/><circle r="23.900000000000002" fill="url(#mg2)"/><circle r="23.3" fill="#0a0a0a"/><path id="mp2" d="M0 -25.700000000000003A25.700000000000003 25.700000000000003 0 1 1 -0.01 -25.700000000000003" fill="none" transform="rotate(-42)"/><text class="mt" fill="#5a6070" textLength="161.0" lengthAdjust="spacing"><textPath href="#mp2">PRAGMATISME▪PRAGMATISME▪PRAGMATISME▪PRAGMATISME▪</textPath></text><path d="M14.0 0.0L22.3 0.0M13.9 1.7L22.1 2.7M13.6 3.4L21.7 5.3M13.1 5.0L20.9 7.9M12.4 6.5L19.7 10.4M11.5 8.0L18.4 12.7M10.5 9.3L16.7 14.8M9.3 10.5L14.8 16.7M8.0 11.5L12.7 18.4M6.5 12.4L10.4 19.7M5.0 13.1L7.9 20.9M3.4 13.6L5.3 21.7M1.7 13.9L2.7 22.1M-0.0 14.0L-0.0 22.3M-1.7 13.9L-2.7 22.1M-3.4 13.6L-5.3 21.7M-5.0 13.1L-7.9 20.9M-6.5 12.4L-10.4 19.7M-8.0 11.5L-12.7 18.4M-9.3 10.5L-14.8 16.7M-10.5 9.3L-16.7 14.8M-11.5 8.0L-18.4 12.7M-12.4 6.5L-19.7 10.4M-13.1 5.0L-20.9 7.9M-13.6 3.4L-21.7 5.3M-13.9 1.7L-22.1 2.7M-14.0 -0.0L-22.3 -0.0M-13.9 -1.7L-22.1 -2.7M-13.6 -3.4L-21.7 -5.3M-13.1 -5.0L-20.9 -7.9M-12.4 -6.5L-19.7 -10.4M-11.5 -8.0L-18.4 -12.7M-10.5 -9.3L-16.7 -14.8M-9.3 -10.5L-14.8 -16.7M-8.0 -11.5L-12.7 -18.4M-6.5 -12.4L-10.4 -19.7M-5.0 -13.1L-7.9 -20.9M-3.4 -13.6L-5.3 -21.7M-1.7 -13.9L-2.7 -22.1M-0.0 -14.0L-0.0 -22.3M1.7 -13.9L2.7 -22.1M3.4 -13.6L5.3 -21.7M5.0 -13.1L7.9 -20.9M6.5 -12.4L10.4 -19.7M8.0 -11.5L12.7 -18.4M9.3 -10.5L14.8 -16.7M10.5 -9.3L16.7 -14.8M11.5 -8.0L18.4 -12.7M12.4 -6.5L19.7 -10.4M13.1 -5.0L20.9 -7.9M13.6 -3.4L21.7 -5.3M13.9 -1.7L22.1 -2.7" stroke="#b8c1d6" stroke-width="1.300"/><ellipse cx=".8" cy="-.5" rx="18.500" ry="14.500" fill="#0a0a0a"/><clipPath id="brc"><path d="M-16 1.500C-17 -5 -12 -11.500 -4 -12.500C5 -14 13 -11 16.500 -5C19 0 17.500 5.500 13 7.500C13.500 10.500 10.500 12.500 8 10.500L6 8C2 10 -4 9 -8 8.500C-13 8 -15.500 5 -16 1.500Z"/></clipPath><path d="M-16 1.500C-17 -5 -12 -11.500 -4 -12.500C5 -14 13 -11 16.500 -5C19 0 17.500 5.500 13 7.500C13.500 10.500 10.500 12.500 8 10.500L6 8C2 10 -4 9 -8 8.500C-13 8 -15.500 5 -16 1.500Z" fill="#8891a8"/><path d="M-17.1 -11.9q1.3 1.4 2.5 -0.1t2.5 0.1M-13.6 -12.0q1.1 2.4 2.2 0.9t2.2 -0.9M-9.1 -12.6q1.0 2.7 2.1 1.2t2.1 -1.2M-4.8 -12.2q1.0 2.3 2.0 0.8t2.0 -0.8M-0.8 -11.5q0.8 0.0 1.6 -1.5t1.6 1.5M3.2 -11.6q0.9 1.8 1.9 0.3t1.9 -0.3M7.0 -11.8q1.0 -1.0 2.0 0.5t2.0 -0.5M11.3 -12.1q1.1 2.9 2.1 1.4t2.1 -1.4M15.4 -12.3q0.9 0.8 1.8 -0.7t1.8 0.7M-16.9 -9.6q0.8 0.8 1.6 -0.7t1.6 0.7M-12.1 -8.4q0.8 0.6 1.5 -0.9t1.5 0.9M-9.1 -8.2q1.0 0.1 1.9 -1.4t1.9 1.4M-4.4 -9.4q0.8 -2.0 1.6 -0.5t1.6 0.5M-0.5 -9.6q0.9 0.2 1.8 -1.3t1.8 1.3M2.9 -9.0q1.1 0.5 2.3 -1.0t2.3 1.0M8.0 -8.6q1.0 -1.9 2.0 -0.4t2.0 0.4M10.8 -9.5q0.9 0.0 1.8 1.5t1.8 -1.5M16.0 -9.8q0.9 3.1 1.7 1.6t1.7 -1.6M-17.9 -6.6q1.0 -3.1 2.0 -1.6t2.0 1.6M-12.3 -6.2q0.8 0.6 1.6 -0.9t1.6 0.9M-10.0 -6.2q1.1 -2.7 2.2 -1.2t2.2 1.2M-4.3 -6.6q1.0 -1.1 1.9 0.4t1.9 -0.4M-0.2 -5.5q0.9 0.5 1.8 -1.0t1.8 1.0M3.4 -6.2q1.0 0.2 2.0 -1.3t2.0 1.3M6.2 -6.7q1.3 -2.3 2.6 -0.8t2.6 0.8M10.5 -5.5q1.1 0.8 2.2 -0.7t2.2 0.7M15.9 -5.2q0.8 1.4 1.6 -0.1t1.6 0.1M-17.4 -2.3q0.9 -3.0 1.7 -1.5t1.7 1.5M-13.2 -3.4q0.8 0.8 1.6 -0.7t1.6 0.7M-9.8 -3.6q1.0 1.0 2.0 -0.5t2.0 0.5M-4.8 -2.3q1.0 -2.0 2.0 -0.5t2.0 0.5M-0.1 -3.8q1.1 -1.6 2.2 -0.1t2.2 0.1M2.6 -2.2q0.8 1.6 1.6 0.1t1.6 -0.1M7.8 -2.6q1.1 -0.6 2.3 0.9t2.3 -0.9M10.7 -2.7q1.2 -0.3 2.5 1.2t2.5 -1.2M15.9 -3.8q1.0 -3.1 2.0 -1.6t2.0 1.6M-17.2 -0.8q0.8 0.2 1.6 -1.3t1.6 1.3M-12.0 0.6q1.2 -1.9 2.3 -0.4t2.3 0.4M-9.1 0.5q0.8 2.3 1.6 0.8t1.6 -0.8M-5.4 -0.7q0.8 3.0 1.5 1.5t1.5 -1.5M-1.0 0.2q1.3 0.7 2.5 -0.8t2.5 0.8M2.7 -0.6q1.1 -1.4 2.2 0.1t2.2 -0.1M7.3 -0.1q1.2 -2.1 2.5 -0.6t2.5 0.6M10.4 -0.1q1.2 2.8 2.4 1.3t2.4 -1.3M14.8 0.1q0.9 -2.7 1.8 -1.2t1.8 1.2M-17.3 3.6q0.8 -2.9 1.5 -1.4t1.5 1.4M-12.4 2.4q1.0 -0.1 2.0 1.4t2.0 -1.4M-9.2 3.0q1.1 -0.8 2.2 0.7t2.2 -0.7M-5.4 3.5q0.9 -1.2 1.8 0.3t1.8 -0.3M-0.9 2.7q1.2 -0.0 2.4 -1.5t2.4 1.5M2.8 2.5q1.2 0.8 2.3 -0.7t2.3 0.7M7.6 3.8q0.8 -2.8 1.6 -1.3t1.6 1.3M11.9 3.3q0.9 1.4 1.7 -0.1t1.7 0.1M15.4 3.4q1.0 0.0 2.1 -1.5t2.1 1.5M-17.5 5.8q1.1 1.6 2.3 0.1t2.3 -0.1M-13.2 6.5q1.2 -2.8 2.5 -1.3t2.5 1.3M-9.7 5.9q1.1 -0.2 2.2 1.3t2.2 -1.3M-4.9 6.2q1.0 -0.5 2.1 1.0t2.1 -1.0M-1.1 6.2q0.9 2.2 1.7 0.7t1.7 -0.7M2.4 6.6q1.3 0.0 2.6 1.5t2.6 -1.5M6.5 6.3q0.8 1.5 1.5 0.0t1.5 -0.0M10.9 6.1q1.2 1.5 2.3 -0.0t2.3 0.0M14.4 6.6q1.0 -3.0 2.0 -1.5t2.0 1.5M-16.6 9.7q1.0 0.1 2.0 1.6t2.0 -1.6M-12.1 9.0q1.3 0.2 2.5 -1.3t2.5 1.3M-9.1 9.1q1.2 1.7 2.4 0.2t2.4 -0.2M-5.0 9.5q1.1 -2.1 2.1 -0.6t2.1 0.6M-0.1 9.6q1.1 0.9 2.2 -0.6t2.2 0.6M3.9 9.0q1.1 0.5 2.1 -1.0t2.1 1.0M7.0 9.2q0.8 0.0 1.5 1.5t1.5 -1.5M11.1 9.8q0.8 0.2 1.6 -1.3t1.6 1.3M14.1 9.1q1.0 -0.0 2.0 1.5t2.0 -1.5" stroke="#1a1c22" stroke-width=".85" fill="none" clip-path="url(#brc)"/><path d="M-16 1.500C-17 -5 -12 -11.500 -4 -12.500C5 -14 13 -11 16.500 -5C19 0 17.500 5.500 13 7.500C13.500 10.500 10.500 12.500 8 10.500L6 8C2 10 -4 9 -8 8.500C-13 8 -15.500 5 -16 1.500Z" fill="none" stroke="#1a1c22" stroke-width=".6"/></g>
<g transform="translate(450,1125)"><radialGradient id="mg3" cx="-6" cy="-8" r="50" gradientUnits="userSpaceOnUse"><stop offset="0" stop-color="#fbfaf0"/><stop offset=".55" stop-color="#e8e5d0"/><stop offset="1" stop-color="#9c987c"/></radialGradient><path d="M35.20 0.00Q38.79 2.10 34.99 3.81Q38.34 6.29 34.38 7.57Q37.44 10.39 33.36 11.24Q36.09 14.38 31.95 14.78Q34.33 18.20 30.16 18.15Q32.16 21.80 28.02 21.30Q29.61 25.15 25.56 24.21Q26.72 28.21 22.79 26.83Q23.51 30.93 19.75 29.13Q20.03 33.29 16.49 31.10Q16.31 35.26 13.03 32.70Q12.41 36.82 9.42 33.92Q8.35 37.94 5.69 34.74Q4.20 38.62 1.91 35.15Q-0.00 38.85 -1.91 35.15Q-4.20 38.62 -5.69 34.74Q-8.35 37.94 -9.42 33.92Q-12.41 36.82 -13.03 32.70Q-16.31 35.26 -16.49 31.10Q-20.03 33.29 -19.75 29.13Q-23.51 30.93 -22.79 26.83Q-26.72 28.21 -25.56 24.21Q-29.61 25.15 -28.02 21.30Q-32.16 21.80 -30.16 18.15Q-34.33 18.20 -31.95 14.78Q-36.09 14.38 -33.36 11.24Q-37.44 10.39 -34.38 7.57Q-38.34 6.29 -34.99 3.81Q-38.79 2.10 -35.20 0.00Q-38.79 -2.10 -34.99 -3.81Q-38.34 -6.29 -34.38 -7.57Q-37.44 -10.39 -33.36 -11.24Q-36.09 -14.38 -31.95 -14.78Q-34.33 -18.20 -30.16 -18.15Q-32.16 -21.80 -28.02 -21.30Q-29.61 -25.15 -25.56 -24.21Q-26.72 -28.21 -22.79 -26.83Q-23.51 -30.93 -19.75 -29.13Q-20.03 -33.29 -16.49 -31.10Q-16.31 -35.26 -13.03 -32.70Q-12.41 -36.82 -9.42 -33.92Q-8.35 -37.94 -5.69 -34.74Q-4.20 -38.62 -1.91 -35.15Q0.00 -38.85 1.91 -35.15Q4.20 -38.62 5.69 -34.74Q8.35 -37.94 9.42 -33.92Q12.41 -36.82 13.03 -32.70Q16.31 -35.26 16.49 -31.10Q20.03 -33.29 19.75 -29.13Q23.51 -30.93 22.79 -26.83Q26.72 -28.21 25.56 -24.21Q29.61 -25.15 28.02 -21.30Q32.16 -21.80 30.16 -18.15Q34.33 -18.20 31.95 -14.78Q36.09 -14.38 33.36 -11.24Q37.44 -10.39 34.38 -7.57Q38.34 -6.29 34.99 -3.81Q38.79 -2.10 35.20 -0.00Z" fill="#9c987c" transform="translate(.3,.5)" opacity=".55"/><path d="M35.00 0.00Q38.39 2.08 34.79 3.78Q37.94 6.22 34.18 7.52Q37.05 10.29 33.17 11.18Q35.72 14.23 31.77 14.70Q33.97 18.01 29.99 18.04Q31.83 21.58 27.86 21.18Q29.31 24.89 25.41 24.07Q26.44 27.92 22.66 26.68Q23.27 30.61 19.64 28.97Q19.82 32.95 16.39 30.92Q16.15 34.90 12.95 32.51Q12.28 36.44 9.36 33.72Q8.27 37.55 5.66 34.54Q4.16 38.23 1.89 34.95Q-0.00 38.45 -1.89 34.95Q-4.16 38.23 -5.66 34.54Q-8.27 37.55 -9.36 33.72Q-12.28 36.44 -12.95 32.51Q-16.15 34.90 -16.39 30.92Q-19.82 32.95 -19.64 28.97Q-23.27 30.61 -22.66 26.68Q-26.44 27.92 -25.41 24.07Q-29.31 24.89 -27.86 21.18Q-31.83 21.58 -29.99 18.04Q-33.97 18.01 -31.77 14.70Q-35.72 14.23 -33.17 11.18Q-37.05 10.29 -34.18 7.52Q-37.94 6.22 -34.79 3.78Q-38.39 2.08 -35.00 0.00Q-38.39 -2.08 -34.79 -3.78Q-37.94 -6.22 -34.18 -7.52Q-37.05 -10.29 -33.17 -11.18Q-35.72 -14.23 -31.77 -14.70Q-33.97 -18.01 -29.99 -18.04Q-31.83 -21.58 -27.86 -21.18Q-29.31 -24.89 -25.41 -24.07Q-26.44 -27.92 -22.66 -26.68Q-23.27 -30.61 -19.64 -28.97Q-19.82 -32.95 -16.39 -30.92Q-16.15 -34.90 -12.95 -32.51Q-12.28 -36.44 -9.36 -33.72Q-8.27 -37.55 -5.66 -34.54Q-4.16 -38.23 -1.89 -34.95Q0.00 -38.45 1.89 -34.95Q4.16 -38.23 5.66 -34.54Q8.27 -37.55 9.36 -33.72Q12.28 -36.44 12.95 -32.51Q16.15 -34.90 16.39 -30.92Q19.82 -32.95 19.64 -28.97Q23.27 -30.61 22.66 -26.68Q26.44 -27.92 25.41 -24.07Q29.31 -24.89 27.86 -21.18Q31.83 -21.58 29.99 -18.04Q33.97 -18.01 31.77 -14.70Q35.72 -14.23 33.17 -11.18Q37.05 -10.29 34.18 -7.52Q37.94 -6.22 34.79 -3.78Q38.39 -2.08 35.00 -0.00Z" fill="url(#mg3)" stroke="#9c987c" stroke-width=".45"/><circle r="34.500" fill="none" stroke="#fff" stroke-width="2.600" opacity=".3"/><circle r="32.700" fill="#111"/><circle r="31.100" fill="url(#mg3)"/><circle r="24.8" fill="#111"/><circle r="24.1" fill="url(#mg3)"/><circle r="23.5" fill="#0a0a0a"/><path id="mp3" d="M0 -25.900000000000002A25.900000000000002 25.900000000000002 0 1 1 -0.01 -25.900000000000002" fill="none" transform="rotate(-42)"/><text class="mt" fill="#6a6852" textLength="162.2" lengthAdjust="spacing"><textPath href="#mp3">MISSIONNAIRE▪MISSIONNAIRE▪MISSIONNAIRE▪MISSIONNAIRE▪</textPath></text><circle r="18.7" fill="none" stroke="#ebe7cf" stroke-width="1.100"/><polygon points="0.0,-18.7 16.2,9.3 -16.2,9.3" fill="none" stroke="#ebe7cf" stroke-width=".75"/><polygon points="0.0,18.7 -16.2,-9.4 16.2,-9.4" fill="none" stroke="#ebe7cf" stroke-width=".75"/><circle cx="0.0" cy="-21.0" r="2.100" fill="#ebe7cf"/><circle cx="14.8" cy="-14.8" r="2.100" fill="#ebe7cf"/><circle cx="21.0" cy="0.0" r="2.100" fill="#ebe7cf"/><circle cx="14.8" cy="14.8" r="2.100" fill="#ebe7cf"/><circle cx="0.0" cy="21.0" r="2.100" fill="#ebe7cf"/><circle cx="-14.8" cy="14.8" r="2.100" fill="#ebe7cf"/><circle cx="-21.0" cy="0.0" r="2.100" fill="#ebe7cf"/><circle cx="-14.8" cy="-14.8" r="2.100" fill="#ebe7cf"/><path d="M-21 .6H21" stroke="#ebe7cf" stroke-width=".9"/><rect x="-1.400" y="-18" width="2.900" height="37" fill="#ebe7cf"/><rect x="-8.500" y="-9" width="17.500" height="2.300" fill="#ebe7cf"/><circle cx="-9.700" cy="1.500" r="4.900" fill="#0a0a0a" stroke="#ebe7cf" stroke-width=".9"/><path d="M-9 -2A3.600 3.600 0 1 0 -7 4.600A2.900 2.900 0 1 1 -9 -2Z" fill="#ebe7cf"/><circle cx="-6.200" cy="1.500" r=".9" fill="#ebe7cf"/><circle cx="9.700" cy="1.500" r="4.900" fill="#0a0a0a" stroke="#ebe7cf" stroke-width=".9"/><path d="M7 -0.800C9 -2.300 10.500 -.3 8.800 1.200C11 1.200 11 4.700 8 4.700C7 4.700 6.500 4.200 6.300 3.700M10 1.500C11.500 .2 13.300 1.200 13 3.200C12.800 4.500 11.500 4.700 11 3.700M10.500 -2.300C11.500 -1.500 12.500 -1.500 13.500 -2.300" stroke="#ebe7cf" stroke-width="1" fill="none"/></g>
<g transform="translate(550,1125)"><radialGradient id="mg4" cx="-6" cy="-8" r="50" gradientUnits="userSpaceOnUse"><stop offset="0" stop-color="#f5f6e2"/><stop offset=".55" stop-color="#d9dab8"/><stop offset="1" stop-color="#8c8d6c"/></radialGradient><path d="M35.20 0.00Q38.79 2.10 34.99 3.81Q38.34 6.29 34.38 7.57Q37.44 10.39 33.36 11.24Q36.09 14.38 31.95 14.78Q34.33 18.20 30.16 18.15Q32.16 21.80 28.02 21.30Q29.61 25.15 25.56 24.21Q26.72 28.21 22.79 26.83Q23.51 30.93 19.75 29.13Q20.03 33.29 16.49 31.10Q16.31 35.26 13.03 32.70Q12.41 36.82 9.42 33.92Q8.35 37.94 5.69 34.74Q4.20 38.62 1.91 35.15Q-0.00 38.85 -1.91 35.15Q-4.20 38.62 -5.69 34.74Q-8.35 37.94 -9.42 33.92Q-12.41 36.82 -13.03 32.70Q-16.31 35.26 -16.49 31.10Q-20.03 33.29 -19.75 29.13Q-23.51 30.93 -22.79 26.83Q-26.72 28.21 -25.56 24.21Q-29.61 25.15 -28.02 21.30Q-32.16 21.80 -30.16 18.15Q-34.33 18.20 -31.95 14.78Q-36.09 14.38 -33.36 11.24Q-37.44 10.39 -34.38 7.57Q-38.34 6.29 -34.99 3.81Q-38.79 2.10 -35.20 0.00Q-38.79 -2.10 -34.99 -3.81Q-38.34 -6.29 -34.38 -7.57Q-37.44 -10.39 -33.36 -11.24Q-36.09 -14.38 -31.95 -14.78Q-34.33 -18.20 -30.16 -18.15Q-32.16 -21.80 -28.02 -21.30Q-29.61 -25.15 -25.56 -24.21Q-26.72 -28.21 -22.79 -26.83Q-23.51 -30.93 -19.75 -29.13Q-20.03 -33.29 -16.49 -31.10Q-16.31 -35.26 -13.03 -32.70Q-12.41 -36.82 -9.42 -33.92Q-8.35 -37.94 -5.69 -34.74Q-4.20 -38.62 -1.91 -35.15Q0.00 -38.85 1.91 -35.15Q4.20 -38.62 5.69 -34.74Q8.35 -37.94 9.42 -33.92Q12.41 -36.82 13.03 -32.70Q16.31 -35.26 16.49 -31.10Q20.03 -33.29 19.75 -29.13Q23.51 -30.93 22.79 -26.83Q26.72 -28.21 25.56 -24.21Q29.61 -25.15 28.02 -21.30Q32.16 -21.80 30.16 -18.15Q34.33 -18.20 31.95 -14.78Q36.09 -14.38 33.36 -11.24Q37.44 -10.39 34.38 -7.57Q38.34 -6.29 34.99 -3.81Q38.79 -2.10 35.20 -0.00Z" fill="#8c8d6c" transform="translate(.3,.5)" opacity=".55"/><path d="M35.00 0.00Q38.39 2.08 34.79 3.78Q37.94 6.22 34.18 7.52Q37.05 10.29 33.17 11.18Q35.72 14.23 31.77 14.70Q33.97 18.01 29.99 18.04Q31.83 21.58 27.86 21.18Q29.31 24.89 25.41 24.07Q26.44 27.92 22.66 26.68Q23.27 30.61 19.64 28.97Q19.82 32.95 16.39 30.92Q16.15 34.90 12.95 32.51Q12.28 36.44 9.36 33.72Q8.27 37.55 5.66 34.54Q4.16 38.23 1.89 34.95Q-0.00 38.45 -1.89 34.95Q-4.16 38.23 -5.66 34.54Q-8.27 37.55 -9.36 33.72Q-12.28 36.44 -12.95 32.51Q-16.15 34.90 -16.39 30.92Q-19.82 32.95 -19.64 28.97Q-23.27 30.61 -22.66 26.68Q-26.44 27.92 -25.41 24.07Q-29.31 24.89 -27.86 21.18Q-31.83 21.58 -29.99 18.04Q-33.97 18.01 -31.77 14.70Q-35.72 14.23 -33.17 11.18Q-37.05 10.29 -34.18 7.52Q-37.94 6.22 -34.79 3.78Q-38.39 2.08 -35.00 0.00Q-38.39 -2.08 -34.79 -3.78Q-37.94 -6.22 -34.18 -7.52Q-37.05 -10.29 -33.17 -11.18Q-35.72 -14.23 -31.77 -14.70Q-33.97 -18.01 -29.99 -18.04Q-31.83 -21.58 -27.86 -21.18Q-29.31 -24.89 -25.41 -24.07Q-26.44 -27.92 -22.66 -26.68Q-23.27 -30.61 -19.64 -28.97Q-19.82 -32.95 -16.39 -30.92Q-16.15 -34.90 -12.95 -32.51Q-12.28 -36.44 -9.36 -33.72Q-8.27 -37.55 -5.66 -34.54Q-4.16 -38.23 -1.89 -34.95Q0.00 -38.45 1.89 -34.95Q4.16 -38.23 5.66 -34.54Q8.27 -37.55 9.36 -33.72Q12.28 -36.44 12.95 -32.51Q16.15 -34.90 16.39 -30.92Q19.82 -32.95 19.64 -28.97Q23.27 -30.61 22.66 -26.68Q26.44 -27.92 25.41 -24.07Q29.31 -24.89 27.86 -21.18Q31.83 -21.58 29.99 -18.04Q33.97 -18.01 31.77 -14.70Q35.72 -14.23 33.17 -11.18Q37.05 -10.29 34.18 -7.52Q37.94 -6.22 34.79 -3.78Q38.39 -2.08 35.00 -0.00Z" fill="url(#mg4)" stroke="#8c8d6c" stroke-width=".45"/><circle r="34.500" fill="none" stroke="#fff" stroke-width="2.600" opacity=".3"/><circle r="32.700" fill="#111"/><circle r="31.100" fill="url(#mg4)"/><circle r="24.6" fill="#111"/><circle r="23.900000000000002" fill="url(#mg4)"/><circle r="23.3" fill="#0a0a0a"/><path id="mp4" d="M0 -25.700000000000003A25.700000000000003 25.700000000000003 0 1 1 -0.01 -25.700000000000003" fill="none" transform="rotate(-42)"/><text class="mt" fill="#66664e" textLength="161.0" lengthAdjust="spacing"><textPath href="#mp4">MONARCHISME▪MONARCHISME▪MONARCHISME▪MONARCHISME▪</textPath></text><clipPath id="mcl"><circle r="22.800"/></clipPath><path d="M0 22L-46.0 21.0L-46.0 23.0ZM0 22L-45.7 16.8L-45.9 18.8ZM0 22L-45.0 12.6L-45.4 14.5ZM0 22L-44.0 8.4L-44.5 10.4ZM0 22L-42.5 4.5L-43.3 6.3ZM0 22L-40.7 0.6L-41.6 2.4ZM0 22L-38.6 -3.1L-39.6 -1.4ZM0 22L-36.1 -6.5L-37.3 -4.9ZM0 22L-33.3 -9.7L-34.7 -8.3ZM0 22L-30.3 -12.7L-31.7 -11.3ZM0 22L-26.9 -15.3L-28.5 -14.1ZM0 22L-23.4 -17.6L-25.1 -16.6ZM0 22L-19.6 -19.6L-21.4 -18.7ZM0 22L-15.7 -21.3L-17.5 -20.5ZM0 22L-11.6 -22.5L-13.6 -22.0ZM0 22L-7.5 -23.4L-9.4 -23.0ZM0 22L-3.2 -23.9L-5.2 -23.7ZM0 22L1.0 -24.0L-1.0 -24.0ZM0 22L5.2 -23.7L3.2 -23.9ZM0 22L9.4 -23.0L7.5 -23.4ZM0 22L13.6 -22.0L11.6 -22.5ZM0 22L17.5 -20.5L15.7 -21.3ZM0 22L21.4 -18.7L19.6 -19.6ZM0 22L25.1 -16.6L23.4 -17.6ZM0 22L28.5 -14.1L26.9 -15.3ZM0 22L31.7 -11.3L30.3 -12.7ZM0 22L34.7 -8.3L33.3 -9.7ZM0 22L37.3 -4.9L36.1 -6.5ZM0 22L39.6 -1.4L38.6 -3.1ZM0 22L41.6 2.4L40.7 0.6ZM0 22L43.3 6.3L42.5 4.5ZM0 22L44.5 10.4L44.0 8.4ZM0 22L45.4 14.5L45.0 12.6ZM0 22L45.9 18.8L45.7 16.8ZM0 22L46.0 23.0L46.0 21.0Z" fill="#dedebf" clip-path="url(#mcl)" opacity=".9"/><g transform="translate(0,-1.800)"><path d="M-16 8.500L-17 0L-12 3L-8.500 -4.500L-4.500 1L0 -7L4.500 1L8.500 -4.500L12 3L17 0L16 8.500Z" fill="#dedebf" stroke="#0a0a0a" stroke-width=".5"/><path d="M0 -14.500L1.300 -11L.8 -6H-.8L-1.300 -11Z" fill="#dedebf"/><path d="M-16.300 3.500Q0 0 16.300 3.500L16 9Q0 5.500 -16 9Z" fill="#dedebf"/><path d="M-16 9Q0 5.500 16 9Q0 13 -16 9Z" fill="#8c8c68"/><rect x="-12.9" y="5.8" width="1.800" height="1.800" transform="rotate(45 -12 6.7)" fill="#0a0a0a"/><rect x="-8.9" y="5.0" width="1.800" height="1.800" transform="rotate(45 -8 5.9)" fill="#0a0a0a"/><rect x="-4.9" y="4.5" width="1.800" height="1.800" transform="rotate(45 -4 5.4)" fill="#0a0a0a"/><rect x="-0.9" y="4.3" width="1.800" height="1.800" transform="rotate(45 0 5.2)" fill="#0a0a0a"/><rect x="3.1" y="4.5" width="1.800" height="1.800" transform="rotate(45 4 5.4)" fill="#0a0a0a"/><rect x="7.1" y="5.0" width="1.800" height="1.800" transform="rotate(45 8 5.9)" fill="#0a0a0a"/><rect x="11.1" y="5.8" width="1.800" height="1.800" transform="rotate(45 12 6.7)" fill="#0a0a0a"/></g></g>
<text x="793" y="1190" font-size="16" fill="#777" text-anchor="end">320–348</text>
</svg></body></html>
